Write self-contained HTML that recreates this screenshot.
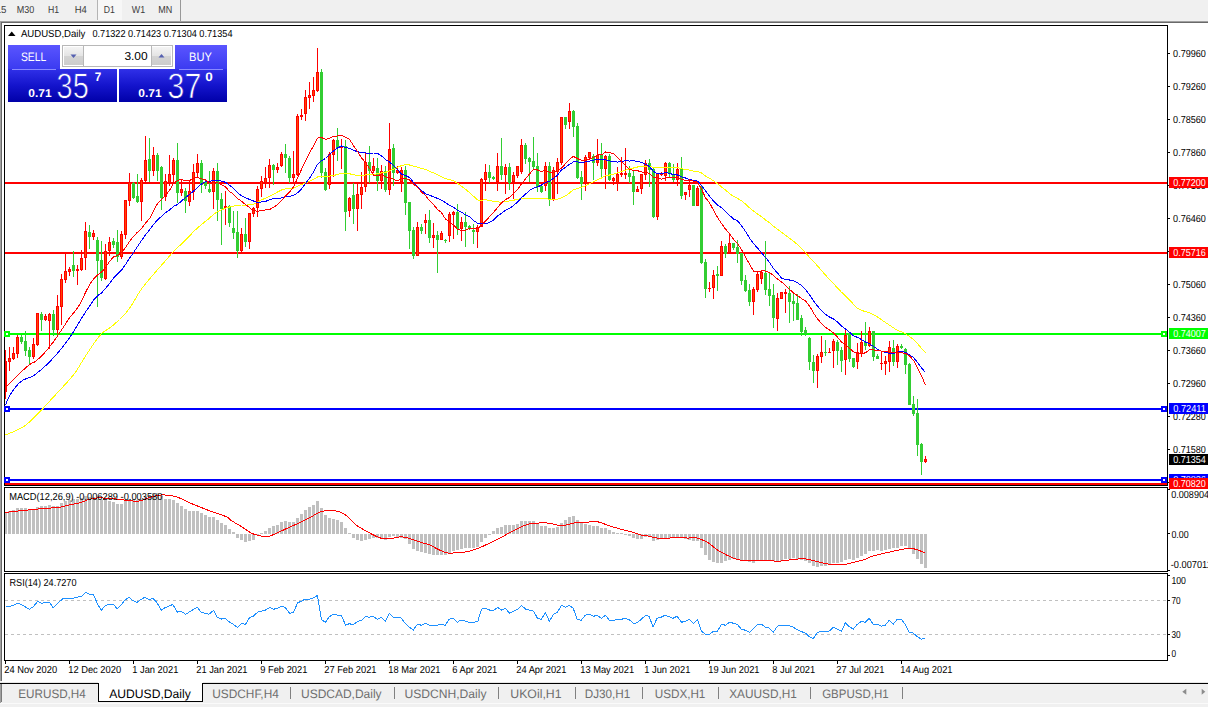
<!DOCTYPE html>
<html><head><meta charset="utf-8"><title>AUDUSD,Daily</title>
<style>html,body{margin:0;padding:0;background:#f0f0f0;}body{width:1208px;height:707px;overflow:hidden;position:relative;font-family:"Liberation Sans",sans-serif;}svg{position:absolute;left:0;top:0;display:block}text{font-family:"Liberation Sans",sans-serif;text-rendering:geometricPrecision;}</style></head><body>
<svg width="1208" height="707" viewBox="0 0 1208 707">
<rect x="0" y="0" width="1208" height="707" fill="#f0f0f0"/>
<rect x="2" y="23" width="1206" height="659" fill="#ffffff"/>
<rect x="0" y="21" width="1208" height="1" fill="#a0a0a0"/>
<rect x="1" y="22" width="1207" height="1" fill="#696969"/>
<rect x="0" y="21" width="1" height="660" fill="#a0a0a0"/>
<rect x="1" y="22" width="1" height="659" fill="#696969"/>
<rect x="0" y="684" width="1" height="19" fill="#a0a0a0"/>
<rect x="1" y="684" width="1" height="18" fill="#7a7a7a"/>
<rect x="98" y="0" width="24" height="20" fill="#f7f7f7"/>
<rect x="97" y="0" width="1" height="20" fill="#b4b4b4"/>
<rect x="180" y="0" width="1" height="21" fill="#989898"/>
<text x="-4.3" y="13.0" font-size="10.2" fill="#3c3c3c" textLength="10.8" lengthAdjust="spacingAndGlyphs" text-anchor="start">15</text>
<text x="16.8" y="13.0" font-size="10.2" fill="#3c3c3c" textLength="17.5" lengthAdjust="spacingAndGlyphs" text-anchor="start">M30</text>
<text x="47.9" y="13.0" font-size="10.2" fill="#3c3c3c" textLength="11.1" lengthAdjust="spacingAndGlyphs" text-anchor="start">H1</text>
<text x="74.7" y="13.0" font-size="10.2" fill="#3c3c3c" textLength="12.1" lengthAdjust="spacingAndGlyphs" text-anchor="start">H4</text>
<text x="103.7" y="13.0" font-size="10.2" fill="#3c3c3c" textLength="11.1" lengthAdjust="spacingAndGlyphs" text-anchor="start">D1</text>
<text x="131.8" y="13.0" font-size="10.2" fill="#3c3c3c" textLength="13.3" lengthAdjust="spacingAndGlyphs" text-anchor="start">W1</text>
<text x="158.2" y="13.0" font-size="10.2" fill="#3c3c3c" textLength="14.0" lengthAdjust="spacingAndGlyphs" text-anchor="start">MN</text>
<g shape-rendering="crispEdges">
<rect x="5" y="182" width="1162" height="2" fill="#ff0000"/>
<rect x="5" y="252" width="1162" height="2" fill="#ff0000"/>
<rect x="5" y="333" width="1162" height="2" fill="#00ff00"/>
<rect x="5" y="408" width="1162" height="2" fill="#0000ff"/>
<rect x="5" y="479" width="1162" height="2" fill="#0000ff"/>
<rect x="5" y="483" width="1162" height="2" fill="#ff0000"/>
<rect x="5" y="350" width="1" height="49" fill="#ff0000"/>
<rect x="5" y="361" width="2" height="31" fill="#ff0000"/>
<rect x="9" y="347" width="1" height="24" fill="#ff0000"/>
<rect x="8" y="358" width="3" height="4" fill="#ff0000"/>
<rect x="9" y="359" width="1" height="2" fill="#ff4500"/>
<rect x="13" y="347" width="1" height="13" fill="#ff0000"/>
<rect x="12" y="353" width="3" height="6" fill="#ff0000"/>
<rect x="13" y="354" width="1" height="4" fill="#ff4500"/>
<rect x="17" y="335" width="1" height="23" fill="#ff0000"/>
<rect x="16" y="337" width="3" height="17" fill="#ff0000"/>
<rect x="17" y="338" width="1" height="15" fill="#ff4500"/>
<rect x="21" y="335" width="1" height="9" fill="#32cd32"/>
<rect x="20" y="337" width="3" height="5" fill="#32cd32"/>
<rect x="25" y="331" width="1" height="25" fill="#32cd32"/>
<rect x="24" y="341" width="3" height="10" fill="#32cd32"/>
<rect x="29" y="347" width="1" height="18" fill="#32cd32"/>
<rect x="28" y="350" width="3" height="7" fill="#32cd32"/>
<rect x="33" y="338" width="1" height="21" fill="#ff0000"/>
<rect x="32" y="344" width="3" height="13" fill="#ff0000"/>
<rect x="33" y="345" width="1" height="11" fill="#ff4500"/>
<rect x="37" y="313" width="1" height="33" fill="#ff0000"/>
<rect x="36" y="313" width="3" height="32" fill="#ff0000"/>
<rect x="37" y="314" width="1" height="30" fill="#ff4500"/>
<rect x="41" y="312" width="1" height="19" fill="#32cd32"/>
<rect x="40" y="314" width="3" height="6" fill="#32cd32"/>
<rect x="45" y="314" width="1" height="7" fill="#ff0000"/>
<rect x="44" y="316" width="3" height="4" fill="#ff0000"/>
<rect x="45" y="317" width="1" height="2" fill="#ff4500"/>
<rect x="49" y="313" width="1" height="36" fill="#ff0000"/>
<rect x="48" y="314" width="3" height="7" fill="#ff0000"/>
<rect x="49" y="315" width="1" height="5" fill="#ff4500"/>
<rect x="53" y="310" width="1" height="26" fill="#32cd32"/>
<rect x="52" y="314" width="3" height="16" fill="#32cd32"/>
<rect x="57" y="295" width="1" height="39" fill="#ff0000"/>
<rect x="56" y="306" width="3" height="24" fill="#ff0000"/>
<rect x="57" y="307" width="1" height="22" fill="#ff4500"/>
<rect x="61" y="274" width="1" height="51" fill="#ff0000"/>
<rect x="60" y="279" width="3" height="28" fill="#ff0000"/>
<rect x="61" y="280" width="1" height="26" fill="#ff4500"/>
<rect x="65" y="253" width="1" height="30" fill="#ff0000"/>
<rect x="64" y="271" width="3" height="9" fill="#ff0000"/>
<rect x="65" y="272" width="1" height="7" fill="#ff4500"/>
<rect x="69" y="267" width="1" height="9" fill="#ff0000"/>
<rect x="68" y="269" width="3" height="3" fill="#ff0000"/>
<rect x="69" y="270" width="1" height="1" fill="#ff4500"/>
<rect x="73" y="251" width="1" height="26" fill="#32cd32"/>
<rect x="72" y="265" width="3" height="6" fill="#32cd32"/>
<rect x="77" y="265" width="1" height="20" fill="#ff0000"/>
<rect x="76" y="269" width="3" height="2" fill="#ff0000"/>
<rect x="81" y="250" width="1" height="21" fill="#ff0000"/>
<rect x="80" y="258" width="3" height="12" fill="#ff0000"/>
<rect x="81" y="259" width="1" height="10" fill="#ff4500"/>
<rect x="85" y="222" width="1" height="48" fill="#ff0000"/>
<rect x="84" y="231" width="3" height="27" fill="#ff0000"/>
<rect x="85" y="232" width="1" height="25" fill="#ff4500"/>
<rect x="89" y="225" width="1" height="24" fill="#32cd32"/>
<rect x="88" y="232" width="3" height="5" fill="#32cd32"/>
<rect x="93" y="230" width="1" height="10" fill="#ff0000"/>
<rect x="92" y="233" width="3" height="4" fill="#ff0000"/>
<rect x="93" y="234" width="1" height="2" fill="#ff4500"/>
<rect x="97" y="237" width="1" height="70" fill="#32cd32"/>
<rect x="96" y="240" width="3" height="21" fill="#32cd32"/>
<rect x="101" y="241" width="1" height="40" fill="#32cd32"/>
<rect x="100" y="260" width="3" height="18" fill="#32cd32"/>
<rect x="105" y="244" width="1" height="36" fill="#ff0000"/>
<rect x="104" y="251" width="3" height="28" fill="#ff0000"/>
<rect x="105" y="252" width="1" height="26" fill="#ff4500"/>
<rect x="109" y="237" width="1" height="19" fill="#ff0000"/>
<rect x="108" y="242" width="3" height="9" fill="#ff0000"/>
<rect x="109" y="243" width="1" height="7" fill="#ff4500"/>
<rect x="113" y="238" width="1" height="10" fill="#32cd32"/>
<rect x="112" y="241" width="3" height="4" fill="#32cd32"/>
<rect x="117" y="230" width="1" height="32" fill="#32cd32"/>
<rect x="116" y="242" width="3" height="15" fill="#32cd32"/>
<rect x="121" y="231" width="1" height="28" fill="#ff0000"/>
<rect x="120" y="234" width="3" height="23" fill="#ff0000"/>
<rect x="121" y="235" width="1" height="21" fill="#ff4500"/>
<rect x="125" y="200" width="1" height="39" fill="#ff0000"/>
<rect x="124" y="200" width="3" height="35" fill="#ff0000"/>
<rect x="125" y="201" width="1" height="33" fill="#ff4500"/>
<rect x="129" y="173" width="1" height="33" fill="#ff0000"/>
<rect x="128" y="182" width="3" height="19" fill="#ff0000"/>
<rect x="129" y="183" width="1" height="17" fill="#ff4500"/>
<rect x="133" y="182" width="1" height="17" fill="#32cd32"/>
<rect x="132" y="183" width="3" height="15" fill="#32cd32"/>
<rect x="137" y="174" width="1" height="29" fill="#32cd32"/>
<rect x="136" y="196" width="3" height="6" fill="#32cd32"/>
<rect x="141" y="178" width="1" height="43" fill="#ff0000"/>
<rect x="140" y="180" width="3" height="22" fill="#ff0000"/>
<rect x="141" y="181" width="1" height="20" fill="#ff4500"/>
<rect x="145" y="136" width="1" height="46" fill="#ff0000"/>
<rect x="144" y="160" width="3" height="21" fill="#ff0000"/>
<rect x="145" y="161" width="1" height="19" fill="#ff4500"/>
<rect x="149" y="138" width="1" height="44" fill="#32cd32"/>
<rect x="148" y="159" width="3" height="12" fill="#32cd32"/>
<rect x="153" y="147" width="1" height="29" fill="#ff0000"/>
<rect x="152" y="155" width="3" height="16" fill="#ff0000"/>
<rect x="153" y="156" width="1" height="14" fill="#ff4500"/>
<rect x="157" y="153" width="1" height="28" fill="#32cd32"/>
<rect x="156" y="155" width="3" height="16" fill="#32cd32"/>
<rect x="161" y="166" width="1" height="44" fill="#32cd32"/>
<rect x="160" y="167" width="3" height="31" fill="#32cd32"/>
<rect x="165" y="174" width="1" height="27" fill="#ff0000"/>
<rect x="164" y="181" width="3" height="16" fill="#ff0000"/>
<rect x="165" y="182" width="1" height="14" fill="#ff4500"/>
<rect x="169" y="155" width="1" height="31" fill="#ff0000"/>
<rect x="168" y="174" width="3" height="9" fill="#ff0000"/>
<rect x="169" y="175" width="1" height="7" fill="#ff4500"/>
<rect x="173" y="158" width="1" height="25" fill="#ff0000"/>
<rect x="172" y="160" width="3" height="15" fill="#ff0000"/>
<rect x="173" y="161" width="1" height="13" fill="#ff4500"/>
<rect x="177" y="143" width="1" height="60" fill="#32cd32"/>
<rect x="176" y="160" width="3" height="33" fill="#32cd32"/>
<rect x="181" y="180" width="1" height="16" fill="#ff0000"/>
<rect x="180" y="189" width="3" height="4" fill="#ff0000"/>
<rect x="181" y="190" width="1" height="2" fill="#ff4500"/>
<rect x="185" y="188" width="1" height="25" fill="#32cd32"/>
<rect x="184" y="191" width="3" height="10" fill="#32cd32"/>
<rect x="189" y="180" width="1" height="26" fill="#ff0000"/>
<rect x="188" y="191" width="3" height="11" fill="#ff0000"/>
<rect x="189" y="192" width="1" height="9" fill="#ff4500"/>
<rect x="193" y="164" width="1" height="36" fill="#ff0000"/>
<rect x="192" y="172" width="3" height="20" fill="#ff0000"/>
<rect x="193" y="173" width="1" height="18" fill="#ff4500"/>
<rect x="197" y="154" width="1" height="24" fill="#ff0000"/>
<rect x="196" y="163" width="3" height="10" fill="#ff0000"/>
<rect x="197" y="164" width="1" height="8" fill="#ff4500"/>
<rect x="201" y="160" width="1" height="33" fill="#32cd32"/>
<rect x="200" y="163" width="3" height="22" fill="#32cd32"/>
<rect x="205" y="180" width="1" height="9" fill="#32cd32"/>
<rect x="204" y="182" width="3" height="4" fill="#32cd32"/>
<rect x="209" y="171" width="1" height="22" fill="#32cd32"/>
<rect x="208" y="189" width="3" height="3" fill="#32cd32"/>
<rect x="213" y="168" width="1" height="41" fill="#ff0000"/>
<rect x="212" y="171" width="3" height="21" fill="#ff0000"/>
<rect x="213" y="172" width="1" height="19" fill="#ff4500"/>
<rect x="217" y="163" width="1" height="58" fill="#32cd32"/>
<rect x="216" y="171" width="3" height="29" fill="#32cd32"/>
<rect x="221" y="193" width="1" height="52" fill="#32cd32"/>
<rect x="220" y="199" width="3" height="10" fill="#32cd32"/>
<rect x="225" y="191" width="1" height="34" fill="#ff0000"/>
<rect x="224" y="206" width="3" height="2" fill="#ff0000"/>
<rect x="229" y="205" width="1" height="22" fill="#32cd32"/>
<rect x="228" y="206" width="3" height="17" fill="#32cd32"/>
<rect x="233" y="211" width="1" height="28" fill="#32cd32"/>
<rect x="232" y="228" width="3" height="5" fill="#32cd32"/>
<rect x="237" y="211" width="1" height="47" fill="#32cd32"/>
<rect x="236" y="232" width="3" height="19" fill="#32cd32"/>
<rect x="241" y="228" width="1" height="24" fill="#ff0000"/>
<rect x="240" y="234" width="3" height="17" fill="#ff0000"/>
<rect x="241" y="235" width="1" height="15" fill="#ff4500"/>
<rect x="245" y="218" width="1" height="29" fill="#32cd32"/>
<rect x="244" y="234" width="3" height="8" fill="#32cd32"/>
<rect x="249" y="213" width="1" height="36" fill="#ff0000"/>
<rect x="248" y="213" width="3" height="29" fill="#ff0000"/>
<rect x="249" y="214" width="1" height="27" fill="#ff4500"/>
<rect x="253" y="207" width="1" height="10" fill="#ff0000"/>
<rect x="252" y="208" width="3" height="6" fill="#ff0000"/>
<rect x="253" y="209" width="1" height="4" fill="#ff4500"/>
<rect x="257" y="186" width="1" height="31" fill="#ff0000"/>
<rect x="256" y="189" width="3" height="19" fill="#ff0000"/>
<rect x="257" y="190" width="1" height="17" fill="#ff4500"/>
<rect x="261" y="176" width="1" height="21" fill="#ff0000"/>
<rect x="260" y="181" width="3" height="8" fill="#ff0000"/>
<rect x="261" y="182" width="1" height="6" fill="#ff4500"/>
<rect x="265" y="167" width="1" height="21" fill="#ff0000"/>
<rect x="264" y="178" width="3" height="5" fill="#ff0000"/>
<rect x="265" y="179" width="1" height="3" fill="#ff4500"/>
<rect x="269" y="159" width="1" height="29" fill="#ff0000"/>
<rect x="268" y="165" width="3" height="13" fill="#ff0000"/>
<rect x="269" y="166" width="1" height="11" fill="#ff4500"/>
<rect x="273" y="164" width="1" height="21" fill="#32cd32"/>
<rect x="272" y="165" width="3" height="5" fill="#32cd32"/>
<rect x="277" y="163" width="1" height="10" fill="#ff0000"/>
<rect x="276" y="167" width="3" height="3" fill="#ff0000"/>
<rect x="277" y="168" width="1" height="1" fill="#ff4500"/>
<rect x="281" y="152" width="1" height="15" fill="#ff0000"/>
<rect x="280" y="154" width="3" height="12" fill="#ff0000"/>
<rect x="281" y="155" width="1" height="10" fill="#ff4500"/>
<rect x="285" y="144" width="1" height="29" fill="#32cd32"/>
<rect x="284" y="154" width="3" height="4" fill="#32cd32"/>
<rect x="289" y="156" width="1" height="27" fill="#32cd32"/>
<rect x="288" y="158" width="3" height="20" fill="#32cd32"/>
<rect x="293" y="151" width="1" height="31" fill="#ff0000"/>
<rect x="292" y="174" width="3" height="4" fill="#ff0000"/>
<rect x="293" y="175" width="1" height="2" fill="#ff4500"/>
<rect x="297" y="114" width="1" height="62" fill="#ff0000"/>
<rect x="296" y="116" width="3" height="59" fill="#ff0000"/>
<rect x="297" y="117" width="1" height="57" fill="#ff4500"/>
<rect x="301" y="109" width="1" height="11" fill="#ff0000"/>
<rect x="300" y="115" width="3" height="2" fill="#ff0000"/>
<rect x="305" y="90" width="1" height="31" fill="#ff0000"/>
<rect x="304" y="97" width="3" height="17" fill="#ff0000"/>
<rect x="305" y="98" width="1" height="15" fill="#ff4500"/>
<rect x="309" y="82" width="1" height="27" fill="#ff0000"/>
<rect x="308" y="95" width="3" height="3" fill="#ff0000"/>
<rect x="309" y="96" width="1" height="1" fill="#ff4500"/>
<rect x="313" y="77" width="1" height="25" fill="#ff0000"/>
<rect x="312" y="90" width="3" height="6" fill="#ff0000"/>
<rect x="313" y="91" width="1" height="4" fill="#ff4500"/>
<rect x="317" y="48" width="1" height="44" fill="#ff0000"/>
<rect x="316" y="72" width="3" height="19" fill="#ff0000"/>
<rect x="317" y="73" width="1" height="17" fill="#ff4500"/>
<rect x="321" y="69" width="1" height="109" fill="#32cd32"/>
<rect x="320" y="72" width="3" height="101" fill="#32cd32"/>
<rect x="325" y="168" width="1" height="23" fill="#32cd32"/>
<rect x="324" y="172" width="3" height="18" fill="#32cd32"/>
<rect x="329" y="152" width="1" height="37" fill="#ff0000"/>
<rect x="328" y="154" width="3" height="31" fill="#ff0000"/>
<rect x="329" y="155" width="1" height="29" fill="#ff4500"/>
<rect x="333" y="139" width="1" height="38" fill="#ff0000"/>
<rect x="332" y="140" width="3" height="15" fill="#ff0000"/>
<rect x="333" y="141" width="1" height="13" fill="#ff4500"/>
<rect x="337" y="128" width="1" height="33" fill="#32cd32"/>
<rect x="336" y="140" width="3" height="8" fill="#32cd32"/>
<rect x="341" y="139" width="1" height="30" fill="#ff0000"/>
<rect x="340" y="146" width="3" height="2" fill="#ff0000"/>
<rect x="345" y="140" width="1" height="91" fill="#32cd32"/>
<rect x="344" y="146" width="3" height="66" fill="#32cd32"/>
<rect x="349" y="197" width="1" height="20" fill="#ff0000"/>
<rect x="348" y="198" width="3" height="13" fill="#ff0000"/>
<rect x="349" y="199" width="1" height="11" fill="#ff4500"/>
<rect x="353" y="183" width="1" height="41" fill="#32cd32"/>
<rect x="352" y="195" width="3" height="14" fill="#32cd32"/>
<rect x="357" y="184" width="1" height="47" fill="#ff0000"/>
<rect x="356" y="194" width="3" height="15" fill="#ff0000"/>
<rect x="357" y="195" width="1" height="13" fill="#ff4500"/>
<rect x="361" y="172" width="1" height="37" fill="#ff0000"/>
<rect x="360" y="187" width="3" height="8" fill="#ff0000"/>
<rect x="361" y="188" width="1" height="6" fill="#ff4500"/>
<rect x="365" y="153" width="1" height="39" fill="#ff0000"/>
<rect x="364" y="162" width="3" height="25" fill="#ff0000"/>
<rect x="365" y="163" width="1" height="23" fill="#ff4500"/>
<rect x="369" y="146" width="1" height="37" fill="#32cd32"/>
<rect x="368" y="162" width="3" height="9" fill="#32cd32"/>
<rect x="373" y="158" width="1" height="15" fill="#ff0000"/>
<rect x="372" y="166" width="3" height="5" fill="#ff0000"/>
<rect x="373" y="167" width="1" height="3" fill="#ff4500"/>
<rect x="377" y="158" width="1" height="33" fill="#32cd32"/>
<rect x="376" y="168" width="3" height="13" fill="#32cd32"/>
<rect x="381" y="165" width="1" height="24" fill="#ff0000"/>
<rect x="380" y="171" width="3" height="10" fill="#ff0000"/>
<rect x="381" y="172" width="1" height="8" fill="#ff4500"/>
<rect x="385" y="166" width="1" height="26" fill="#32cd32"/>
<rect x="384" y="171" width="3" height="19" fill="#32cd32"/>
<rect x="389" y="123" width="1" height="72" fill="#ff0000"/>
<rect x="388" y="149" width="3" height="41" fill="#ff0000"/>
<rect x="389" y="150" width="1" height="39" fill="#ff4500"/>
<rect x="393" y="144" width="1" height="42" fill="#32cd32"/>
<rect x="392" y="148" width="3" height="25" fill="#32cd32"/>
<rect x="397" y="166" width="1" height="8" fill="#ff0000"/>
<rect x="396" y="170" width="3" height="3" fill="#ff0000"/>
<rect x="397" y="171" width="1" height="1" fill="#ff4500"/>
<rect x="401" y="167" width="1" height="25" fill="#ff0000"/>
<rect x="400" y="170" width="3" height="12" fill="#ff0000"/>
<rect x="401" y="171" width="1" height="10" fill="#ff4500"/>
<rect x="405" y="166" width="1" height="49" fill="#32cd32"/>
<rect x="404" y="170" width="3" height="33" fill="#32cd32"/>
<rect x="409" y="202" width="1" height="47" fill="#32cd32"/>
<rect x="408" y="202" width="3" height="29" fill="#32cd32"/>
<rect x="413" y="227" width="1" height="32" fill="#32cd32"/>
<rect x="412" y="230" width="3" height="26" fill="#32cd32"/>
<rect x="417" y="222" width="1" height="34" fill="#ff0000"/>
<rect x="416" y="227" width="3" height="29" fill="#ff0000"/>
<rect x="417" y="228" width="1" height="27" fill="#ff4500"/>
<rect x="421" y="224" width="1" height="10" fill="#32cd32"/>
<rect x="420" y="227" width="3" height="4" fill="#32cd32"/>
<rect x="425" y="214" width="1" height="20" fill="#ff0000"/>
<rect x="424" y="220" width="3" height="3" fill="#ff0000"/>
<rect x="425" y="221" width="1" height="1" fill="#ff4500"/>
<rect x="429" y="210" width="1" height="33" fill="#32cd32"/>
<rect x="428" y="220" width="3" height="18" fill="#32cd32"/>
<rect x="433" y="223" width="1" height="25" fill="#ff0000"/>
<rect x="432" y="235" width="3" height="3" fill="#ff0000"/>
<rect x="433" y="236" width="1" height="1" fill="#ff4500"/>
<rect x="437" y="231" width="1" height="42" fill="#32cd32"/>
<rect x="436" y="235" width="3" height="5" fill="#32cd32"/>
<rect x="441" y="231" width="1" height="9" fill="#ff0000"/>
<rect x="440" y="233" width="3" height="7" fill="#ff0000"/>
<rect x="441" y="234" width="1" height="5" fill="#ff4500"/>
<rect x="445" y="239" width="1" height="4" fill="#32cd32"/>
<rect x="444" y="240" width="3" height="1" fill="#32cd32"/>
<rect x="449" y="212" width="1" height="30" fill="#ff0000"/>
<rect x="448" y="214" width="3" height="22" fill="#ff0000"/>
<rect x="449" y="215" width="1" height="20" fill="#ff4500"/>
<rect x="453" y="211" width="1" height="28" fill="#ff0000"/>
<rect x="452" y="212" width="3" height="3" fill="#ff0000"/>
<rect x="453" y="213" width="1" height="1" fill="#ff4500"/>
<rect x="457" y="204" width="1" height="31" fill="#32cd32"/>
<rect x="456" y="212" width="3" height="17" fill="#32cd32"/>
<rect x="461" y="217" width="1" height="24" fill="#ff0000"/>
<rect x="460" y="222" width="3" height="7" fill="#ff0000"/>
<rect x="461" y="223" width="1" height="5" fill="#ff4500"/>
<rect x="465" y="212" width="1" height="35" fill="#32cd32"/>
<rect x="464" y="222" width="3" height="5" fill="#32cd32"/>
<rect x="469" y="225" width="1" height="5" fill="#32cd32"/>
<rect x="468" y="226" width="3" height="3" fill="#32cd32"/>
<rect x="473" y="224" width="1" height="20" fill="#32cd32"/>
<rect x="472" y="230" width="3" height="2" fill="#32cd32"/>
<rect x="477" y="225" width="1" height="23" fill="#ff0000"/>
<rect x="476" y="227" width="3" height="5" fill="#ff0000"/>
<rect x="477" y="228" width="1" height="3" fill="#ff4500"/>
<rect x="481" y="178" width="1" height="49" fill="#ff0000"/>
<rect x="480" y="179" width="3" height="48" fill="#ff0000"/>
<rect x="481" y="180" width="1" height="46" fill="#ff4500"/>
<rect x="485" y="164" width="1" height="27" fill="#ff0000"/>
<rect x="484" y="172" width="3" height="8" fill="#ff0000"/>
<rect x="485" y="173" width="1" height="6" fill="#ff4500"/>
<rect x="489" y="165" width="1" height="18" fill="#32cd32"/>
<rect x="488" y="172" width="3" height="6" fill="#32cd32"/>
<rect x="493" y="176" width="1" height="4" fill="#32cd32"/>
<rect x="492" y="177" width="3" height="2" fill="#32cd32"/>
<rect x="497" y="153" width="1" height="38" fill="#ff0000"/>
<rect x="496" y="166" width="3" height="16" fill="#ff0000"/>
<rect x="497" y="167" width="1" height="14" fill="#ff4500"/>
<rect x="501" y="138" width="1" height="42" fill="#32cd32"/>
<rect x="500" y="166" width="3" height="9" fill="#32cd32"/>
<rect x="505" y="164" width="1" height="30" fill="#ff0000"/>
<rect x="504" y="167" width="3" height="8" fill="#ff0000"/>
<rect x="505" y="168" width="1" height="6" fill="#ff4500"/>
<rect x="509" y="163" width="1" height="27" fill="#32cd32"/>
<rect x="508" y="167" width="3" height="16" fill="#32cd32"/>
<rect x="513" y="172" width="1" height="27" fill="#ff0000"/>
<rect x="512" y="175" width="3" height="7" fill="#ff0000"/>
<rect x="513" y="176" width="1" height="5" fill="#ff4500"/>
<rect x="517" y="166" width="1" height="12" fill="#ff0000"/>
<rect x="516" y="166" width="3" height="10" fill="#ff0000"/>
<rect x="517" y="167" width="1" height="8" fill="#ff4500"/>
<rect x="521" y="139" width="1" height="35" fill="#ff0000"/>
<rect x="520" y="145" width="3" height="27" fill="#ff0000"/>
<rect x="521" y="146" width="1" height="25" fill="#ff4500"/>
<rect x="525" y="143" width="1" height="21" fill="#32cd32"/>
<rect x="524" y="145" width="3" height="14" fill="#32cd32"/>
<rect x="529" y="157" width="1" height="25" fill="#32cd32"/>
<rect x="528" y="158" width="3" height="4" fill="#32cd32"/>
<rect x="533" y="137" width="1" height="33" fill="#32cd32"/>
<rect x="532" y="161" width="3" height="6" fill="#32cd32"/>
<rect x="537" y="153" width="1" height="39" fill="#32cd32"/>
<rect x="536" y="166" width="3" height="21" fill="#32cd32"/>
<rect x="541" y="185" width="1" height="8" fill="#32cd32"/>
<rect x="540" y="186" width="3" height="6" fill="#32cd32"/>
<rect x="545" y="162" width="1" height="29" fill="#ff0000"/>
<rect x="544" y="166" width="3" height="20" fill="#ff0000"/>
<rect x="545" y="167" width="1" height="18" fill="#ff4500"/>
<rect x="549" y="162" width="1" height="44" fill="#32cd32"/>
<rect x="548" y="166" width="3" height="34" fill="#32cd32"/>
<rect x="553" y="167" width="1" height="34" fill="#ff0000"/>
<rect x="552" y="170" width="3" height="30" fill="#ff0000"/>
<rect x="553" y="171" width="1" height="28" fill="#ff4500"/>
<rect x="557" y="158" width="1" height="36" fill="#ff0000"/>
<rect x="556" y="162" width="3" height="10" fill="#ff0000"/>
<rect x="557" y="163" width="1" height="8" fill="#ff4500"/>
<rect x="561" y="117" width="1" height="48" fill="#ff0000"/>
<rect x="560" y="117" width="3" height="46" fill="#ff0000"/>
<rect x="561" y="118" width="1" height="44" fill="#ff4500"/>
<rect x="565" y="117" width="1" height="12" fill="#32cd32"/>
<rect x="564" y="117" width="3" height="8" fill="#32cd32"/>
<rect x="569" y="103" width="1" height="26" fill="#ff0000"/>
<rect x="568" y="111" width="3" height="11" fill="#ff0000"/>
<rect x="569" y="112" width="1" height="9" fill="#ff4500"/>
<rect x="573" y="110" width="1" height="27" fill="#32cd32"/>
<rect x="572" y="111" width="3" height="16" fill="#32cd32"/>
<rect x="577" y="123" width="1" height="56" fill="#32cd32"/>
<rect x="576" y="126" width="3" height="52" fill="#32cd32"/>
<rect x="581" y="171" width="1" height="29" fill="#32cd32"/>
<rect x="580" y="177" width="3" height="7" fill="#32cd32"/>
<rect x="585" y="155" width="1" height="36" fill="#ff0000"/>
<rect x="584" y="157" width="3" height="26" fill="#ff0000"/>
<rect x="585" y="158" width="1" height="24" fill="#ff4500"/>
<rect x="589" y="152" width="1" height="7" fill="#ff0000"/>
<rect x="588" y="152" width="3" height="6" fill="#ff0000"/>
<rect x="589" y="153" width="1" height="4" fill="#ff4500"/>
<rect x="593" y="154" width="1" height="26" fill="#32cd32"/>
<rect x="592" y="156" width="3" height="7" fill="#32cd32"/>
<rect x="597" y="139" width="1" height="27" fill="#ff0000"/>
<rect x="596" y="155" width="3" height="8" fill="#ff0000"/>
<rect x="597" y="156" width="1" height="6" fill="#ff4500"/>
<rect x="601" y="143" width="1" height="36" fill="#32cd32"/>
<rect x="600" y="155" width="3" height="14" fill="#32cd32"/>
<rect x="605" y="155" width="1" height="34" fill="#ff0000"/>
<rect x="604" y="156" width="3" height="13" fill="#ff0000"/>
<rect x="605" y="157" width="1" height="11" fill="#ff4500"/>
<rect x="609" y="154" width="1" height="27" fill="#32cd32"/>
<rect x="608" y="156" width="3" height="24" fill="#32cd32"/>
<rect x="613" y="177" width="1" height="8" fill="#ff0000"/>
<rect x="612" y="178" width="3" height="3" fill="#ff0000"/>
<rect x="613" y="179" width="1" height="1" fill="#ff4500"/>
<rect x="617" y="167" width="1" height="24" fill="#ff0000"/>
<rect x="616" y="174" width="3" height="9" fill="#ff0000"/>
<rect x="617" y="175" width="1" height="7" fill="#ff4500"/>
<rect x="621" y="157" width="1" height="20" fill="#ff0000"/>
<rect x="620" y="173" width="3" height="2" fill="#ff0000"/>
<rect x="625" y="148" width="1" height="31" fill="#ff0000"/>
<rect x="624" y="173" width="3" height="2" fill="#ff0000"/>
<rect x="629" y="166" width="1" height="17" fill="#32cd32"/>
<rect x="628" y="173" width="3" height="4" fill="#32cd32"/>
<rect x="633" y="171" width="1" height="34" fill="#32cd32"/>
<rect x="632" y="176" width="3" height="16" fill="#32cd32"/>
<rect x="637" y="186" width="1" height="6" fill="#ff0000"/>
<rect x="636" y="189" width="3" height="3" fill="#ff0000"/>
<rect x="637" y="190" width="1" height="1" fill="#ff4500"/>
<rect x="641" y="174" width="1" height="20" fill="#ff0000"/>
<rect x="640" y="174" width="3" height="15" fill="#ff0000"/>
<rect x="641" y="175" width="1" height="13" fill="#ff4500"/>
<rect x="645" y="160" width="1" height="20" fill="#ff0000"/>
<rect x="644" y="163" width="3" height="12" fill="#ff0000"/>
<rect x="645" y="164" width="1" height="10" fill="#ff4500"/>
<rect x="649" y="159" width="1" height="28" fill="#32cd32"/>
<rect x="648" y="163" width="3" height="7" fill="#32cd32"/>
<rect x="653" y="167" width="1" height="51" fill="#32cd32"/>
<rect x="652" y="169" width="3" height="48" fill="#32cd32"/>
<rect x="657" y="173" width="1" height="47" fill="#ff0000"/>
<rect x="656" y="173" width="3" height="44" fill="#ff0000"/>
<rect x="657" y="174" width="1" height="42" fill="#ff4500"/>
<rect x="661" y="172" width="1" height="4" fill="#ff0000"/>
<rect x="660" y="173" width="3" height="2" fill="#ff0000"/>
<rect x="665" y="162" width="1" height="19" fill="#ff0000"/>
<rect x="664" y="163" width="3" height="13" fill="#ff0000"/>
<rect x="665" y="164" width="1" height="11" fill="#ff4500"/>
<rect x="669" y="162" width="1" height="16" fill="#32cd32"/>
<rect x="668" y="163" width="3" height="11" fill="#32cd32"/>
<rect x="673" y="164" width="1" height="18" fill="#32cd32"/>
<rect x="672" y="174" width="3" height="6" fill="#32cd32"/>
<rect x="677" y="163" width="1" height="23" fill="#ff0000"/>
<rect x="676" y="169" width="3" height="11" fill="#ff0000"/>
<rect x="677" y="170" width="1" height="9" fill="#ff4500"/>
<rect x="681" y="157" width="1" height="42" fill="#32cd32"/>
<rect x="680" y="169" width="3" height="27" fill="#32cd32"/>
<rect x="685" y="192" width="1" height="8" fill="#ff0000"/>
<rect x="684" y="192" width="3" height="3" fill="#ff0000"/>
<rect x="685" y="193" width="1" height="1" fill="#ff4500"/>
<rect x="689" y="181" width="1" height="16" fill="#ff0000"/>
<rect x="688" y="185" width="3" height="5" fill="#ff0000"/>
<rect x="689" y="186" width="1" height="3" fill="#ff4500"/>
<rect x="693" y="185" width="1" height="21" fill="#32cd32"/>
<rect x="692" y="185" width="3" height="21" fill="#32cd32"/>
<rect x="697" y="186" width="1" height="20" fill="#ff0000"/>
<rect x="696" y="188" width="3" height="18" fill="#ff0000"/>
<rect x="697" y="189" width="1" height="16" fill="#ff4500"/>
<rect x="701" y="185" width="1" height="79" fill="#32cd32"/>
<rect x="700" y="188" width="3" height="75" fill="#32cd32"/>
<rect x="705" y="259" width="1" height="39" fill="#32cd32"/>
<rect x="704" y="262" width="3" height="27" fill="#32cd32"/>
<rect x="709" y="282" width="1" height="10" fill="#ff0000"/>
<rect x="708" y="288" width="3" height="1" fill="#ff0000"/>
<rect x="713" y="270" width="1" height="29" fill="#ff0000"/>
<rect x="712" y="275" width="3" height="13" fill="#ff0000"/>
<rect x="713" y="276" width="1" height="11" fill="#ff4500"/>
<rect x="717" y="266" width="1" height="25" fill="#32cd32"/>
<rect x="716" y="274" width="3" height="2" fill="#32cd32"/>
<rect x="721" y="241" width="1" height="35" fill="#ff0000"/>
<rect x="720" y="246" width="3" height="30" fill="#ff0000"/>
<rect x="721" y="247" width="1" height="28" fill="#ff4500"/>
<rect x="725" y="244" width="1" height="14" fill="#32cd32"/>
<rect x="724" y="246" width="3" height="8" fill="#32cd32"/>
<rect x="729" y="233" width="1" height="20" fill="#ff0000"/>
<rect x="728" y="243" width="3" height="10" fill="#ff0000"/>
<rect x="729" y="244" width="1" height="8" fill="#ff4500"/>
<rect x="733" y="243" width="1" height="7" fill="#32cd32"/>
<rect x="732" y="243" width="3" height="5" fill="#32cd32"/>
<rect x="737" y="240" width="1" height="23" fill="#32cd32"/>
<rect x="736" y="247" width="3" height="7" fill="#32cd32"/>
<rect x="741" y="253" width="1" height="32" fill="#32cd32"/>
<rect x="740" y="253" width="3" height="28" fill="#32cd32"/>
<rect x="745" y="275" width="1" height="17" fill="#32cd32"/>
<rect x="744" y="280" width="3" height="11" fill="#32cd32"/>
<rect x="749" y="284" width="1" height="22" fill="#32cd32"/>
<rect x="748" y="290" width="3" height="12" fill="#32cd32"/>
<rect x="753" y="287" width="1" height="28" fill="#ff0000"/>
<rect x="752" y="289" width="3" height="13" fill="#ff0000"/>
<rect x="753" y="290" width="1" height="11" fill="#ff4500"/>
<rect x="757" y="271" width="1" height="21" fill="#ff0000"/>
<rect x="756" y="274" width="3" height="16" fill="#ff0000"/>
<rect x="757" y="275" width="1" height="14" fill="#ff4500"/>
<rect x="761" y="271" width="1" height="13" fill="#ff0000"/>
<rect x="760" y="272" width="3" height="7" fill="#ff0000"/>
<rect x="761" y="273" width="1" height="5" fill="#ff4500"/>
<rect x="765" y="241" width="1" height="54" fill="#32cd32"/>
<rect x="764" y="273" width="3" height="17" fill="#32cd32"/>
<rect x="769" y="272" width="1" height="34" fill="#32cd32"/>
<rect x="768" y="289" width="3" height="7" fill="#32cd32"/>
<rect x="773" y="284" width="1" height="44" fill="#32cd32"/>
<rect x="772" y="295" width="3" height="23" fill="#32cd32"/>
<rect x="777" y="293" width="1" height="38" fill="#ff0000"/>
<rect x="776" y="298" width="3" height="21" fill="#ff0000"/>
<rect x="777" y="299" width="1" height="19" fill="#ff4500"/>
<rect x="781" y="292" width="1" height="7" fill="#ff0000"/>
<rect x="780" y="292" width="3" height="7" fill="#ff0000"/>
<rect x="781" y="293" width="1" height="5" fill="#ff4500"/>
<rect x="785" y="289" width="1" height="24" fill="#ff0000"/>
<rect x="784" y="292" width="3" height="2" fill="#ff0000"/>
<rect x="789" y="286" width="1" height="37" fill="#32cd32"/>
<rect x="788" y="293" width="3" height="9" fill="#32cd32"/>
<rect x="793" y="294" width="1" height="27" fill="#32cd32"/>
<rect x="792" y="301" width="3" height="3" fill="#32cd32"/>
<rect x="797" y="294" width="1" height="26" fill="#32cd32"/>
<rect x="796" y="303" width="3" height="17" fill="#32cd32"/>
<rect x="801" y="315" width="1" height="21" fill="#32cd32"/>
<rect x="800" y="318" width="3" height="14" fill="#32cd32"/>
<rect x="805" y="327" width="1" height="9" fill="#32cd32"/>
<rect x="804" y="330" width="3" height="4" fill="#32cd32"/>
<rect x="809" y="337" width="1" height="33" fill="#32cd32"/>
<rect x="808" y="338" width="3" height="24" fill="#32cd32"/>
<rect x="813" y="355" width="1" height="28" fill="#32cd32"/>
<rect x="812" y="362" width="3" height="9" fill="#32cd32"/>
<rect x="817" y="354" width="1" height="34" fill="#ff0000"/>
<rect x="816" y="356" width="3" height="15" fill="#ff0000"/>
<rect x="817" y="357" width="1" height="13" fill="#ff4500"/>
<rect x="821" y="336" width="1" height="27" fill="#ff0000"/>
<rect x="820" y="352" width="3" height="5" fill="#ff0000"/>
<rect x="821" y="353" width="1" height="3" fill="#ff4500"/>
<rect x="825" y="340" width="1" height="16" fill="#32cd32"/>
<rect x="824" y="352" width="3" height="1" fill="#32cd32"/>
<rect x="829" y="348" width="1" height="5" fill="#ff0000"/>
<rect x="828" y="352" width="3" height="1" fill="#ff0000"/>
<rect x="833" y="339" width="1" height="29" fill="#ff0000"/>
<rect x="832" y="341" width="3" height="10" fill="#ff0000"/>
<rect x="833" y="342" width="1" height="8" fill="#ff4500"/>
<rect x="837" y="340" width="1" height="25" fill="#32cd32"/>
<rect x="836" y="342" width="3" height="9" fill="#32cd32"/>
<rect x="841" y="347" width="1" height="25" fill="#32cd32"/>
<rect x="840" y="350" width="3" height="11" fill="#32cd32"/>
<rect x="845" y="328" width="1" height="47" fill="#ff0000"/>
<rect x="844" y="335" width="3" height="25" fill="#ff0000"/>
<rect x="845" y="336" width="1" height="23" fill="#ff4500"/>
<rect x="849" y="332" width="1" height="30" fill="#32cd32"/>
<rect x="848" y="333" width="3" height="26" fill="#32cd32"/>
<rect x="853" y="358" width="1" height="10" fill="#32cd32"/>
<rect x="852" y="358" width="3" height="9" fill="#32cd32"/>
<rect x="857" y="343" width="1" height="26" fill="#ff0000"/>
<rect x="856" y="352" width="3" height="10" fill="#ff0000"/>
<rect x="857" y="353" width="1" height="8" fill="#ff4500"/>
<rect x="861" y="331" width="1" height="26" fill="#ff0000"/>
<rect x="860" y="342" width="3" height="12" fill="#ff0000"/>
<rect x="861" y="343" width="1" height="10" fill="#ff4500"/>
<rect x="865" y="322" width="1" height="28" fill="#32cd32"/>
<rect x="864" y="342" width="3" height="4" fill="#32cd32"/>
<rect x="869" y="327" width="1" height="20" fill="#ff0000"/>
<rect x="868" y="331" width="3" height="15" fill="#ff0000"/>
<rect x="869" y="332" width="1" height="13" fill="#ff4500"/>
<rect x="873" y="331" width="1" height="30" fill="#32cd32"/>
<rect x="872" y="331" width="3" height="26" fill="#32cd32"/>
<rect x="877" y="354" width="1" height="5" fill="#32cd32"/>
<rect x="876" y="356" width="3" height="3" fill="#32cd32"/>
<rect x="881" y="352" width="1" height="18" fill="#ff0000"/>
<rect x="880" y="363" width="3" height="1" fill="#ff0000"/>
<rect x="885" y="356" width="1" height="19" fill="#ff0000"/>
<rect x="884" y="361" width="3" height="3" fill="#ff0000"/>
<rect x="885" y="362" width="1" height="1" fill="#ff4500"/>
<rect x="889" y="341" width="1" height="31" fill="#ff0000"/>
<rect x="888" y="347" width="3" height="15" fill="#ff0000"/>
<rect x="889" y="348" width="1" height="13" fill="#ff4500"/>
<rect x="893" y="340" width="1" height="26" fill="#32cd32"/>
<rect x="892" y="348" width="3" height="14" fill="#32cd32"/>
<rect x="897" y="344" width="1" height="24" fill="#ff0000"/>
<rect x="896" y="346" width="3" height="16" fill="#ff0000"/>
<rect x="897" y="347" width="1" height="14" fill="#ff4500"/>
<rect x="901" y="344" width="1" height="5" fill="#32cd32"/>
<rect x="900" y="346" width="3" height="2" fill="#32cd32"/>
<rect x="905" y="348" width="1" height="26" fill="#32cd32"/>
<rect x="904" y="349" width="3" height="16" fill="#32cd32"/>
<rect x="909" y="363" width="1" height="42" fill="#32cd32"/>
<rect x="908" y="364" width="3" height="41" fill="#32cd32"/>
<rect x="913" y="396" width="1" height="20" fill="#32cd32"/>
<rect x="912" y="404" width="3" height="10" fill="#32cd32"/>
<rect x="917" y="399" width="1" height="57" fill="#32cd32"/>
<rect x="916" y="413" width="3" height="32" fill="#32cd32"/>
<rect x="921" y="443" width="1" height="32" fill="#32cd32"/>
<rect x="920" y="444" width="3" height="18" fill="#32cd32"/>
<rect x="925" y="456" width="1" height="7" fill="#ff0000"/>
<rect x="924" y="459" width="3" height="3" fill="#ff0000"/>
<rect x="925" y="460" width="1" height="1" fill="#ff4500"/>
<rect x="5" y="512" width="2" height="22" fill="#c0c0c0"/>
<rect x="8" y="511" width="3" height="23" fill="#c0c0c0"/>
<rect x="12" y="510" width="3" height="24" fill="#c0c0c0"/>
<rect x="16" y="508" width="3" height="26" fill="#c0c0c0"/>
<rect x="20" y="508" width="3" height="26" fill="#c0c0c0"/>
<rect x="24" y="508" width="3" height="26" fill="#c0c0c0"/>
<rect x="28" y="509" width="3" height="25" fill="#c0c0c0"/>
<rect x="32" y="509" width="3" height="25" fill="#c0c0c0"/>
<rect x="36" y="507" width="3" height="27" fill="#c0c0c0"/>
<rect x="40" y="506" width="3" height="28" fill="#c0c0c0"/>
<rect x="44" y="506" width="3" height="28" fill="#c0c0c0"/>
<rect x="48" y="505" width="3" height="29" fill="#c0c0c0"/>
<rect x="52" y="506" width="3" height="28" fill="#c0c0c0"/>
<rect x="56" y="506" width="3" height="28" fill="#c0c0c0"/>
<rect x="60" y="503" width="3" height="31" fill="#c0c0c0"/>
<rect x="64" y="501" width="3" height="33" fill="#c0c0c0"/>
<rect x="68" y="500" width="3" height="34" fill="#c0c0c0"/>
<rect x="72" y="499" width="3" height="35" fill="#c0c0c0"/>
<rect x="76" y="499" width="3" height="35" fill="#c0c0c0"/>
<rect x="80" y="498" width="3" height="36" fill="#c0c0c0"/>
<rect x="84" y="496" width="3" height="38" fill="#c0c0c0"/>
<rect x="88" y="497" width="3" height="37" fill="#c0c0c0"/>
<rect x="92" y="497" width="3" height="37" fill="#c0c0c0"/>
<rect x="96" y="499" width="3" height="35" fill="#c0c0c0"/>
<rect x="100" y="500" width="3" height="34" fill="#c0c0c0"/>
<rect x="104" y="500" width="3" height="34" fill="#c0c0c0"/>
<rect x="108" y="501" width="3" height="33" fill="#c0c0c0"/>
<rect x="112" y="502" width="3" height="32" fill="#c0c0c0"/>
<rect x="116" y="504" width="3" height="30" fill="#c0c0c0"/>
<rect x="120" y="504" width="3" height="30" fill="#c0c0c0"/>
<rect x="124" y="500" width="3" height="34" fill="#c0c0c0"/>
<rect x="128" y="499" width="3" height="35" fill="#c0c0c0"/>
<rect x="132" y="499" width="3" height="35" fill="#c0c0c0"/>
<rect x="136" y="500" width="3" height="34" fill="#c0c0c0"/>
<rect x="140" y="499" width="3" height="35" fill="#c0c0c0"/>
<rect x="144" y="496" width="3" height="38" fill="#c0c0c0"/>
<rect x="148" y="495" width="3" height="39" fill="#c0c0c0"/>
<rect x="152" y="493" width="3" height="41" fill="#c0c0c0"/>
<rect x="156" y="493" width="3" height="41" fill="#c0c0c0"/>
<rect x="160" y="496" width="3" height="38" fill="#c0c0c0"/>
<rect x="164" y="499" width="3" height="35" fill="#c0c0c0"/>
<rect x="168" y="499" width="3" height="35" fill="#c0c0c0"/>
<rect x="172" y="500" width="3" height="34" fill="#c0c0c0"/>
<rect x="176" y="503" width="3" height="31" fill="#c0c0c0"/>
<rect x="180" y="506" width="3" height="28" fill="#c0c0c0"/>
<rect x="184" y="509" width="3" height="25" fill="#c0c0c0"/>
<rect x="188" y="511" width="3" height="23" fill="#c0c0c0"/>
<rect x="192" y="511" width="3" height="23" fill="#c0c0c0"/>
<rect x="196" y="511" width="3" height="23" fill="#c0c0c0"/>
<rect x="200" y="513" width="3" height="21" fill="#c0c0c0"/>
<rect x="204" y="515" width="3" height="19" fill="#c0c0c0"/>
<rect x="208" y="517" width="3" height="17" fill="#c0c0c0"/>
<rect x="212" y="517" width="3" height="17" fill="#c0c0c0"/>
<rect x="216" y="520" width="3" height="14" fill="#c0c0c0"/>
<rect x="220" y="523" width="3" height="11" fill="#c0c0c0"/>
<rect x="224" y="525" width="3" height="9" fill="#c0c0c0"/>
<rect x="228" y="529" width="3" height="5" fill="#c0c0c0"/>
<rect x="232" y="532" width="3" height="2" fill="#c0c0c0"/>
<rect x="236" y="534" width="3" height="4" fill="#c0c0c0"/>
<rect x="240" y="534" width="3" height="6" fill="#c0c0c0"/>
<rect x="244" y="534" width="3" height="8" fill="#c0c0c0"/>
<rect x="248" y="534" width="3" height="7" fill="#c0c0c0"/>
<rect x="252" y="534" width="3" height="6" fill="#c0c0c0"/>
<rect x="256" y="534" width="3" height="1" fill="#c0c0c0"/>
<rect x="260" y="533" width="3" height="1" fill="#c0c0c0"/>
<rect x="264" y="531" width="3" height="3" fill="#c0c0c0"/>
<rect x="268" y="528" width="3" height="6" fill="#c0c0c0"/>
<rect x="272" y="526" width="3" height="8" fill="#c0c0c0"/>
<rect x="276" y="525" width="3" height="9" fill="#c0c0c0"/>
<rect x="280" y="522" width="3" height="12" fill="#c0c0c0"/>
<rect x="284" y="521" width="3" height="13" fill="#c0c0c0"/>
<rect x="288" y="522" width="3" height="12" fill="#c0c0c0"/>
<rect x="292" y="522" width="3" height="12" fill="#c0c0c0"/>
<rect x="296" y="518" width="3" height="16" fill="#c0c0c0"/>
<rect x="300" y="514" width="3" height="20" fill="#c0c0c0"/>
<rect x="304" y="510" width="3" height="24" fill="#c0c0c0"/>
<rect x="308" y="507" width="3" height="27" fill="#c0c0c0"/>
<rect x="312" y="505" width="3" height="29" fill="#c0c0c0"/>
<rect x="316" y="501" width="3" height="33" fill="#c0c0c0"/>
<rect x="320" y="508" width="3" height="26" fill="#c0c0c0"/>
<rect x="324" y="515" width="3" height="19" fill="#c0c0c0"/>
<rect x="328" y="518" width="3" height="16" fill="#c0c0c0"/>
<rect x="332" y="519" width="3" height="15" fill="#c0c0c0"/>
<rect x="336" y="520" width="3" height="14" fill="#c0c0c0"/>
<rect x="340" y="522" width="3" height="12" fill="#c0c0c0"/>
<rect x="344" y="528" width="3" height="6" fill="#c0c0c0"/>
<rect x="348" y="533" width="3" height="1" fill="#c0c0c0"/>
<rect x="352" y="534" width="3" height="4" fill="#c0c0c0"/>
<rect x="356" y="534" width="3" height="6" fill="#c0c0c0"/>
<rect x="360" y="534" width="3" height="7" fill="#c0c0c0"/>
<rect x="364" y="534" width="3" height="6" fill="#c0c0c0"/>
<rect x="368" y="534" width="3" height="5" fill="#c0c0c0"/>
<rect x="372" y="534" width="3" height="4" fill="#c0c0c0"/>
<rect x="376" y="534" width="3" height="4" fill="#c0c0c0"/>
<rect x="380" y="534" width="3" height="5" fill="#c0c0c0"/>
<rect x="384" y="534" width="3" height="6" fill="#c0c0c0"/>
<rect x="388" y="534" width="3" height="3" fill="#c0c0c0"/>
<rect x="392" y="534" width="3" height="2" fill="#c0c0c0"/>
<rect x="396" y="534" width="3" height="3" fill="#c0c0c0"/>
<rect x="400" y="534" width="3" height="4" fill="#c0c0c0"/>
<rect x="404" y="534" width="3" height="5" fill="#c0c0c0"/>
<rect x="408" y="534" width="3" height="10" fill="#c0c0c0"/>
<rect x="412" y="534" width="3" height="15" fill="#c0c0c0"/>
<rect x="416" y="534" width="3" height="17" fill="#c0c0c0"/>
<rect x="420" y="534" width="3" height="18" fill="#c0c0c0"/>
<rect x="424" y="534" width="3" height="19" fill="#c0c0c0"/>
<rect x="428" y="534" width="3" height="20" fill="#c0c0c0"/>
<rect x="432" y="534" width="3" height="21" fill="#c0c0c0"/>
<rect x="436" y="534" width="3" height="21" fill="#c0c0c0"/>
<rect x="440" y="534" width="3" height="21" fill="#c0c0c0"/>
<rect x="444" y="534" width="3" height="21" fill="#c0c0c0"/>
<rect x="448" y="534" width="3" height="19" fill="#c0c0c0"/>
<rect x="452" y="534" width="3" height="17" fill="#c0c0c0"/>
<rect x="456" y="534" width="3" height="16" fill="#c0c0c0"/>
<rect x="460" y="534" width="3" height="15" fill="#c0c0c0"/>
<rect x="464" y="534" width="3" height="14" fill="#c0c0c0"/>
<rect x="468" y="534" width="3" height="14" fill="#c0c0c0"/>
<rect x="472" y="534" width="3" height="14" fill="#c0c0c0"/>
<rect x="476" y="534" width="3" height="13" fill="#c0c0c0"/>
<rect x="480" y="534" width="3" height="8" fill="#c0c0c0"/>
<rect x="484" y="534" width="3" height="4" fill="#c0c0c0"/>
<rect x="488" y="534" width="3" height="1" fill="#c0c0c0"/>
<rect x="492" y="531" width="3" height="3" fill="#c0c0c0"/>
<rect x="496" y="528" width="3" height="6" fill="#c0c0c0"/>
<rect x="500" y="527" width="3" height="7" fill="#c0c0c0"/>
<rect x="504" y="525" width="3" height="9" fill="#c0c0c0"/>
<rect x="508" y="525" width="3" height="9" fill="#c0c0c0"/>
<rect x="512" y="525" width="3" height="9" fill="#c0c0c0"/>
<rect x="516" y="524" width="3" height="10" fill="#c0c0c0"/>
<rect x="520" y="521" width="3" height="13" fill="#c0c0c0"/>
<rect x="524" y="521" width="3" height="13" fill="#c0c0c0"/>
<rect x="528" y="521" width="3" height="13" fill="#c0c0c0"/>
<rect x="532" y="521" width="3" height="13" fill="#c0c0c0"/>
<rect x="536" y="524" width="3" height="10" fill="#c0c0c0"/>
<rect x="540" y="526" width="3" height="8" fill="#c0c0c0"/>
<rect x="544" y="526" width="3" height="8" fill="#c0c0c0"/>
<rect x="548" y="528" width="3" height="6" fill="#c0c0c0"/>
<rect x="552" y="528" width="3" height="6" fill="#c0c0c0"/>
<rect x="556" y="527" width="3" height="7" fill="#c0c0c0"/>
<rect x="560" y="523" width="3" height="11" fill="#c0c0c0"/>
<rect x="564" y="520" width="3" height="14" fill="#c0c0c0"/>
<rect x="568" y="517" width="3" height="17" fill="#c0c0c0"/>
<rect x="572" y="516" width="3" height="18" fill="#c0c0c0"/>
<rect x="576" y="520" width="3" height="14" fill="#c0c0c0"/>
<rect x="580" y="523" width="3" height="11" fill="#c0c0c0"/>
<rect x="584" y="524" width="3" height="10" fill="#c0c0c0"/>
<rect x="588" y="525" width="3" height="9" fill="#c0c0c0"/>
<rect x="592" y="526" width="3" height="8" fill="#c0c0c0"/>
<rect x="596" y="526" width="3" height="8" fill="#c0c0c0"/>
<rect x="600" y="528" width="3" height="6" fill="#c0c0c0"/>
<rect x="604" y="528" width="3" height="6" fill="#c0c0c0"/>
<rect x="608" y="530" width="3" height="4" fill="#c0c0c0"/>
<rect x="612" y="532" width="3" height="2" fill="#c0c0c0"/>
<rect x="616" y="533" width="3" height="1" fill="#c0c0c0"/>
<rect x="620" y="533" width="3" height="1" fill="#c0c0c0"/>
<rect x="624" y="534" width="3" height="1" fill="#c0c0c0"/>
<rect x="628" y="534" width="3" height="2" fill="#c0c0c0"/>
<rect x="632" y="534" width="3" height="4" fill="#c0c0c0"/>
<rect x="636" y="534" width="3" height="5" fill="#c0c0c0"/>
<rect x="640" y="534" width="3" height="5" fill="#c0c0c0"/>
<rect x="644" y="534" width="3" height="3" fill="#c0c0c0"/>
<rect x="648" y="534" width="3" height="2" fill="#c0c0c0"/>
<rect x="652" y="534" width="3" height="7" fill="#c0c0c0"/>
<rect x="656" y="534" width="3" height="6" fill="#c0c0c0"/>
<rect x="660" y="534" width="3" height="5" fill="#c0c0c0"/>
<rect x="664" y="534" width="3" height="4" fill="#c0c0c0"/>
<rect x="668" y="534" width="3" height="4" fill="#c0c0c0"/>
<rect x="672" y="534" width="3" height="3" fill="#c0c0c0"/>
<rect x="676" y="534" width="3" height="3" fill="#c0c0c0"/>
<rect x="680" y="534" width="3" height="4" fill="#c0c0c0"/>
<rect x="684" y="534" width="3" height="5" fill="#c0c0c0"/>
<rect x="688" y="534" width="3" height="6" fill="#c0c0c0"/>
<rect x="692" y="534" width="3" height="7" fill="#c0c0c0"/>
<rect x="696" y="534" width="3" height="7" fill="#c0c0c0"/>
<rect x="700" y="534" width="3" height="14" fill="#c0c0c0"/>
<rect x="704" y="534" width="3" height="21" fill="#c0c0c0"/>
<rect x="708" y="534" width="3" height="26" fill="#c0c0c0"/>
<rect x="712" y="534" width="3" height="28" fill="#c0c0c0"/>
<rect x="716" y="534" width="3" height="29" fill="#c0c0c0"/>
<rect x="720" y="534" width="3" height="29" fill="#c0c0c0"/>
<rect x="724" y="534" width="3" height="27" fill="#c0c0c0"/>
<rect x="728" y="534" width="3" height="26" fill="#c0c0c0"/>
<rect x="732" y="534" width="3" height="25" fill="#c0c0c0"/>
<rect x="736" y="534" width="3" height="26" fill="#c0c0c0"/>
<rect x="740" y="534" width="3" height="26" fill="#c0c0c0"/>
<rect x="744" y="534" width="3" height="27" fill="#c0c0c0"/>
<rect x="748" y="534" width="3" height="28" fill="#c0c0c0"/>
<rect x="752" y="534" width="3" height="29" fill="#c0c0c0"/>
<rect x="756" y="534" width="3" height="27" fill="#c0c0c0"/>
<rect x="760" y="534" width="3" height="26" fill="#c0c0c0"/>
<rect x="764" y="534" width="3" height="26" fill="#c0c0c0"/>
<rect x="768" y="534" width="3" height="26" fill="#c0c0c0"/>
<rect x="772" y="534" width="3" height="27" fill="#c0c0c0"/>
<rect x="776" y="534" width="3" height="27" fill="#c0c0c0"/>
<rect x="780" y="534" width="3" height="27" fill="#c0c0c0"/>
<rect x="784" y="534" width="3" height="25" fill="#c0c0c0"/>
<rect x="788" y="534" width="3" height="25" fill="#c0c0c0"/>
<rect x="792" y="534" width="3" height="24" fill="#c0c0c0"/>
<rect x="796" y="534" width="3" height="25" fill="#c0c0c0"/>
<rect x="800" y="534" width="3" height="26" fill="#c0c0c0"/>
<rect x="804" y="534" width="3" height="27" fill="#c0c0c0"/>
<rect x="808" y="534" width="3" height="29" fill="#c0c0c0"/>
<rect x="812" y="534" width="3" height="32" fill="#c0c0c0"/>
<rect x="816" y="534" width="3" height="33" fill="#c0c0c0"/>
<rect x="820" y="534" width="3" height="32" fill="#c0c0c0"/>
<rect x="824" y="534" width="3" height="32" fill="#c0c0c0"/>
<rect x="828" y="534" width="3" height="31" fill="#c0c0c0"/>
<rect x="832" y="534" width="3" height="29" fill="#c0c0c0"/>
<rect x="836" y="534" width="3" height="29" fill="#c0c0c0"/>
<rect x="840" y="534" width="3" height="28" fill="#c0c0c0"/>
<rect x="844" y="534" width="3" height="26" fill="#c0c0c0"/>
<rect x="848" y="534" width="3" height="25" fill="#c0c0c0"/>
<rect x="852" y="534" width="3" height="26" fill="#c0c0c0"/>
<rect x="856" y="534" width="3" height="24" fill="#c0c0c0"/>
<rect x="860" y="534" width="3" height="22" fill="#c0c0c0"/>
<rect x="864" y="534" width="3" height="20" fill="#c0c0c0"/>
<rect x="868" y="534" width="3" height="17" fill="#c0c0c0"/>
<rect x="872" y="534" width="3" height="17" fill="#c0c0c0"/>
<rect x="876" y="534" width="3" height="16" fill="#c0c0c0"/>
<rect x="880" y="534" width="3" height="17" fill="#c0c0c0"/>
<rect x="884" y="534" width="3" height="16" fill="#c0c0c0"/>
<rect x="888" y="534" width="3" height="15" fill="#c0c0c0"/>
<rect x="892" y="534" width="3" height="14" fill="#c0c0c0"/>
<rect x="896" y="534" width="3" height="14" fill="#c0c0c0"/>
<rect x="900" y="534" width="3" height="12" fill="#c0c0c0"/>
<rect x="904" y="534" width="3" height="12" fill="#c0c0c0"/>
<rect x="908" y="534" width="3" height="15" fill="#c0c0c0"/>
<rect x="912" y="534" width="3" height="20" fill="#c0c0c0"/>
<rect x="916" y="534" width="3" height="25" fill="#c0c0c0"/>
<rect x="920" y="534" width="3" height="30" fill="#c0c0c0"/>
<rect x="924" y="534" width="3" height="34" fill="#c0c0c0"/>
</g>
<g shape-rendering="crispEdges" stroke="#c0c0c0" stroke-width="1" stroke-dasharray="3,3">
<line x1="5" y1="600.5" x2="1167" y2="600.5"/><line x1="5" y1="634.5" x2="1167" y2="634.5"/></g>
<polyline points="5.5,434.8 7.5,434.1 9.5,433.4 11.5,432.5 13.5,431.7 15.5,430.7 17.5,429.8 19.5,428.8 21.5,427.7 23.5,426.6 25.5,425.3 27.5,423.7 29.5,422.0 31.5,420.1 33.5,418.2 35.5,416.2 37.5,414.1 39.5,412.0 41.5,409.9 43.5,407.8 45.5,405.6 47.5,403.5 49.5,401.3 51.5,399.1 53.5,397.0 55.5,394.8 57.5,392.7 59.5,390.5 61.5,388.3 63.5,386.2 65.5,384.0 67.5,381.8 69.5,379.6 71.5,377.3 73.5,374.9 75.5,372.2 77.5,369.1 79.5,365.9 81.5,362.5 83.5,359.2 85.5,356.0 87.5,353.0 89.5,350.0 91.5,346.9 93.5,344.0 95.5,341.1 97.5,338.4 99.5,335.9 101.5,333.7 103.5,332.0 105.5,330.6 107.5,329.3 109.5,328.1 111.5,326.6 113.5,325.0 115.5,323.2 117.5,321.3 119.5,319.5 121.5,317.5 123.5,315.5 125.5,313.3 127.5,311.0 129.5,308.4 131.5,305.3 133.5,302.0 135.5,298.6 137.5,295.2 139.5,291.9 141.5,289.0 143.5,286.4 145.5,283.9 147.5,281.4 149.5,279.0 151.5,276.6 153.5,274.3 155.5,272.0 157.5,269.7 159.5,267.5 161.5,265.2 165.5,260.7 169.5,256.1 173.5,251.3 177.5,247.7 181.5,243.9 185.5,240.1 189.5,236.0 193.5,231.7 197.5,227.9 201.5,224.6 205.5,221.3 209.5,218.2 213.5,214.3 217.5,211.6 221.5,209.8 225.5,208.2 229.5,207.0 233.5,206.1 237.5,205.6 241.5,205.0 245.5,205.2 249.5,204.7 253.5,204.1 257.5,202.3 261.5,199.9 265.5,198.1 269.5,196.1 273.5,194.2 277.5,192.0 281.5,190.0 285.5,188.9 289.5,188.8 293.5,188.2 297.5,186.1 301.5,184.5 305.5,182.9 309.5,181.1 313.5,179.4 317.5,177.0 321.5,176.3 325.5,176.6 329.5,176.1 333.5,175.6 337.5,174.4 341.5,173.3 345.5,173.6 349.5,173.8 353.5,174.7 357.5,175.5 361.5,175.6 365.5,175.0 369.5,174.4 373.5,174.3 377.5,173.8 381.5,172.9 385.5,172.5 389.5,170.7 393.5,169.2 397.5,167.2 401.5,165.6 405.5,164.6 409.5,165.0 413.5,166.2 417.5,167.2 421.5,168.4 425.5,169.4 429.5,171.2 433.5,172.9 437.5,174.7 441.5,176.7 445.5,178.7 449.5,179.7 453.5,180.6 457.5,183.4 461.5,186.1 465.5,189.3 469.5,192.6 473.5,196.2 477.5,200.0 481.5,200.2 485.5,199.8 489.5,200.3 493.5,201.3 497.5,201.8 501.5,202.5 505.5,201.4 509.5,201.0 513.5,200.2 517.5,199.4 521.5,198.4 525.5,198.3 529.5,198.1 533.5,198.1 537.5,198.2 541.5,198.7 545.5,198.2 549.5,199.4 553.5,199.3 557.5,199.2 561.5,197.8 565.5,195.9 569.5,192.9 573.5,189.7 577.5,188.4 581.5,187.2 585.5,185.7 589.5,183.6 593.5,181.7 597.5,179.6 601.5,178.0 605.5,175.9 609.5,175.0 613.5,174.2 617.5,172.8 621.5,171.6 625.5,170.3 629.5,169.0 633.5,168.0 637.5,167.0 641.5,166.9 645.5,166.7 649.5,166.5 653.5,167.4 657.5,167.6 661.5,167.6 665.5,167.5 669.5,167.2 673.5,167.3 677.5,167.4 681.5,168.7 685.5,169.5 689.5,170.1 693.5,171.1 697.5,171.2 701.5,172.9 705.5,176.0 709.5,178.2 713.5,180.8 717.5,183.7 721.5,186.9 725.5,190.1 729.5,193.4 733.5,196.4 737.5,198.3 741.5,200.8 745.5,204.1 749.5,207.8 753.5,211.0 757.5,213.9 761.5,216.6 765.5,219.9 769.5,222.8 773.5,226.2 777.5,229.3 781.5,232.3 785.5,235.3 789.5,238.4 793.5,241.2 797.5,244.5 801.5,248.4 805.5,252.7 809.5,257.4 813.5,261.3 817.5,265.9 821.5,270.4 825.5,275.1 829.5,279.6 833.5,283.6 837.5,288.1 841.5,292.2 845.5,295.8 849.5,300.1 853.5,304.2 857.5,308.3 861.5,310.3 865.5,311.7 869.5,312.8 873.5,314.8 877.5,316.9 881.5,319.8 885.5,322.5 889.5,325.1 893.5,327.9 897.5,330.3 901.5,331.9 905.5,333.8 909.5,336.4 913.5,339.5 917.5,343.7 921.5,348.4 925.5,352.7" fill="none" stroke="#ffff00" stroke-width="1" stroke-linejoin="round" shape-rendering="crispEdges"/>
<polyline points="5.5,404.8 7.5,400.2 9.5,396.1 11.5,392.7 13.5,389.8 15.5,387.2 17.5,384.8 19.5,382.8 21.5,381.2 23.5,379.9 25.5,379.0 27.5,378.3 29.5,377.6 31.5,376.8 33.5,375.6 35.5,374.2 37.5,372.6 39.5,371.0 41.5,369.4 43.5,367.6 45.5,365.8 47.5,363.9 49.5,361.9 51.5,359.8 53.5,357.7 55.5,355.5 57.5,353.2 59.5,350.8 61.5,348.4 63.5,345.8 65.5,343.2 67.5,340.5 69.5,337.7 71.5,334.8 73.5,331.7 75.5,328.5 77.5,325.1 79.5,321.7 81.5,318.4 83.5,315.2 85.5,312.1 89.5,306.2 93.5,300.2 97.5,295.8 101.5,292.9 105.5,288.6 109.5,283.5 113.5,278.2 117.5,274.0 121.5,270.2 125.5,264.5 129.5,258.2 133.5,252.6 137.5,246.5 141.5,240.5 145.5,234.8 149.5,230.0 153.5,224.6 157.5,219.8 161.5,216.4 165.5,212.7 169.5,210.0 173.5,206.4 177.5,204.5 181.5,201.1 185.5,197.4 189.5,194.5 193.5,191.2 197.5,187.4 201.5,183.9 205.5,181.6 209.5,181.2 213.5,180.6 217.5,180.7 221.5,181.1 225.5,182.3 229.5,185.3 233.5,188.2 237.5,192.7 241.5,195.8 245.5,197.9 249.5,199.4 253.5,201.0 257.5,202.4 261.5,201.9 265.5,201.4 269.5,199.7 273.5,198.6 277.5,198.4 281.5,198.0 285.5,196.7 289.5,196.3 293.5,195.5 297.5,192.9 301.5,188.9 305.5,183.6 309.5,178.3 313.5,172.0 317.5,164.4 321.5,160.7 325.5,158.5 329.5,154.4 333.5,150.9 337.5,148.0 341.5,146.0 345.5,147.4 349.5,148.4 353.5,150.4 357.5,151.6 361.5,152.5 365.5,152.9 369.5,153.5 373.5,153.0 377.5,153.3 381.5,155.9 385.5,159.5 389.5,161.9 393.5,165.6 397.5,169.4 401.5,174.1 405.5,175.5 409.5,177.5 413.5,182.3 417.5,186.4 421.5,190.4 425.5,193.9 429.5,195.1 433.5,196.9 437.5,198.4 441.5,200.2 445.5,202.7 449.5,205.2 453.5,207.2 457.5,210.2 461.5,212.2 465.5,214.8 469.5,216.6 473.5,220.5 477.5,223.2 481.5,223.6 485.5,223.7 489.5,222.5 493.5,220.0 497.5,215.8 501.5,213.3 505.5,210.3 509.5,208.5 513.5,205.5 517.5,202.2 521.5,197.7 525.5,194.2 529.5,190.4 533.5,188.1 537.5,186.9 541.5,185.1 545.5,182.5 549.5,181.2 553.5,178.4 557.5,175.1 561.5,169.9 565.5,167.3 569.5,164.4 573.5,161.9 577.5,161.9 581.5,162.7 585.5,161.9 589.5,161.2 593.5,160.2 597.5,159.3 601.5,159.4 605.5,159.9 609.5,160.9 613.5,161.7 617.5,162.1 621.5,161.5 625.5,160.6 629.5,161.1 633.5,160.7 637.5,161.6 641.5,162.2 645.5,164.4 649.5,166.5 653.5,171.5 657.5,173.7 661.5,173.5 665.5,172.6 669.5,173.4 673.5,174.6 677.5,175.0 681.5,176.9 685.5,178.0 689.5,179.4 693.5,180.6 697.5,181.1 701.5,185.3 705.5,190.8 709.5,196.3 713.5,201.0 717.5,205.0 721.5,207.7 725.5,211.5 729.5,215.3 733.5,219.0 737.5,220.7 741.5,225.8 745.5,231.4 749.5,238.0 753.5,243.5 757.5,248.0 761.5,252.9 765.5,257.4 769.5,262.3 773.5,268.6 777.5,273.0 781.5,278.0 785.5,279.4 789.5,280.0 793.5,280.7 797.5,282.8 801.5,285.5 805.5,289.6 809.5,294.8 813.5,300.8 817.5,306.0 821.5,310.7 825.5,314.2 829.5,317.1 833.5,319.0 837.5,321.9 841.5,326.0 845.5,329.0 849.5,332.3 853.5,335.7 857.5,337.4 861.5,339.5 865.5,342.0 869.5,343.8 873.5,346.5 877.5,349.1 881.5,351.2 885.5,352.6 889.5,353.3 893.5,353.3 897.5,352.1 901.5,351.7 905.5,352.3 909.5,354.7 913.5,357.6 917.5,362.5 921.5,367.8 925.5,372.5" fill="none" stroke="#0000ff" stroke-width="1" stroke-linejoin="round" shape-rendering="crispEdges"/>
<polyline points="5.5,385.9 7.5,385.3 9.5,383.7 11.5,381.7 13.5,379.6 15.5,377.5 17.5,375.5 19.5,373.5 21.5,371.7 23.5,369.8 25.5,368.0 27.5,366.3 29.5,364.6 31.5,363.3 33.5,362.5 35.5,361.4 37.5,359.7 39.5,357.9 41.5,356.0 43.5,353.9 45.5,351.7 47.5,349.4 49.5,346.9 51.5,344.3 53.5,341.7 55.5,338.9 57.5,336.0 61.5,330.1 65.5,323.9 69.5,317.9 73.5,313.1 77.5,308.0 81.5,301.4 85.5,292.5 89.5,284.8 93.5,279.1 97.5,274.9 101.5,272.1 105.5,267.6 109.5,261.4 113.5,256.9 117.5,255.3 121.5,252.6 125.5,247.7 129.5,241.4 133.5,236.3 137.5,232.2 141.5,228.6 145.5,223.1 149.5,218.6 153.5,211.1 157.5,203.5 161.5,199.6 165.5,195.3 169.5,190.3 173.5,183.4 177.5,180.4 181.5,179.6 185.5,180.9 189.5,180.5 193.5,178.4 197.5,177.2 201.5,178.9 205.5,180.0 209.5,182.6 213.5,182.6 217.5,182.8 221.5,184.7 225.5,187.0 229.5,191.4 233.5,194.3 237.5,198.6 241.5,201.1 245.5,204.6 249.5,207.6 253.5,210.8 257.5,211.1 261.5,210.9 265.5,209.9 269.5,209.5 273.5,207.4 277.5,204.4 281.5,200.7 285.5,196.1 289.5,192.1 293.5,186.7 297.5,178.3 301.5,169.3 305.5,161.0 309.5,152.9 313.5,145.9 317.5,138.1 321.5,137.6 325.5,139.4 329.5,138.3 333.5,136.4 337.5,135.9 341.5,135.1 345.5,137.5 349.5,139.2 353.5,145.8 357.5,151.4 361.5,157.9 365.5,162.6 369.5,168.4 373.5,175.1 377.5,175.6 381.5,174.4 385.5,176.9 389.5,177.5 393.5,179.3 397.5,181.0 401.5,178.1 405.5,178.4 409.5,179.9 413.5,184.3 417.5,187.1 421.5,192.0 425.5,195.6 429.5,200.6 433.5,204.6 437.5,209.4 441.5,212.6 445.5,219.1 449.5,222.1 453.5,225.1 457.5,229.2 461.5,230.6 465.5,230.4 469.5,228.4 473.5,228.7 477.5,228.5 481.5,225.6 485.5,220.9 489.5,216.8 493.5,212.4 497.5,207.6 501.5,202.9 505.5,199.6 509.5,197.4 513.5,193.6 517.5,189.6 521.5,183.9 525.5,178.9 529.5,173.9 533.5,169.5 537.5,170.0 541.5,171.4 545.5,170.6 549.5,172.1 553.5,172.4 557.5,171.5 561.5,167.9 565.5,163.8 569.5,159.2 573.5,156.4 577.5,158.6 581.5,160.4 585.5,160.1 589.5,159.1 593.5,157.4 597.5,154.9 601.5,155.0 605.5,151.9 609.5,152.6 613.5,153.7 617.5,157.8 621.5,161.3 625.5,165.7 629.5,169.3 633.5,170.3 637.5,170.7 641.5,171.9 645.5,172.7 649.5,173.2 653.5,177.6 657.5,177.9 661.5,179.1 665.5,178.0 669.5,177.6 673.5,178.0 677.5,177.7 681.5,179.3 685.5,180.4 689.5,180.0 693.5,181.1 697.5,182.1 701.5,189.2 705.5,197.7 709.5,202.9 713.5,210.1 717.5,217.4 721.5,223.4 725.5,229.1 729.5,233.6 733.5,239.2 737.5,243.4 741.5,249.6 745.5,257.1 749.5,264.0 753.5,271.2 757.5,272.1 761.5,270.9 765.5,271.0 769.5,272.4 773.5,275.4 777.5,279.1 781.5,281.9 785.5,285.4 789.5,289.3 793.5,292.9 797.5,295.6 801.5,298.6 805.5,300.9 809.5,306.0 813.5,312.9 817.5,318.9 821.5,323.4 825.5,327.4 829.5,329.9 833.5,333.0 837.5,337.1 841.5,342.0 845.5,344.4 849.5,348.4 853.5,351.7 857.5,353.2 861.5,353.9 865.5,352.7 869.5,349.9 873.5,349.9 877.5,350.4 881.5,351.1 885.5,351.8 889.5,352.2 893.5,353.0 897.5,352.0 901.5,352.9 905.5,353.3 909.5,356.0 913.5,360.4 917.5,367.6 921.5,375.9 925.5,385.1" fill="none" stroke="#ff0000" stroke-width="1" stroke-linejoin="round" shape-rendering="crispEdges"/>
<polyline points="5.0,512.4 7.0,512.2 9.0,512.0 11.0,511.8 13.0,511.6 15.0,511.3 17.0,511.1 19.0,510.9 21.0,510.7 23.0,510.5 25.0,510.3 27.0,510.1 29.0,509.9 31.0,509.7 33.0,509.5 35.0,509.3 37.0,509.1 39.0,508.9 41.0,508.7 43.0,508.6 45.0,508.4 47.0,508.3 49.0,508.2 51.0,508.0 53.0,507.9 55.0,507.8 57.0,507.6 59.0,507.3 61.0,507.0 63.0,506.6 65.0,506.1 67.0,505.5 69.0,505.0 71.0,504.6 73.0,504.2 75.0,503.8 77.0,503.4 79.0,503.0 81.0,502.5 83.0,501.7 85.0,500.9 87.0,500.1 89.0,499.4 91.0,498.9 93.0,498.5 95.0,498.2 97.0,498.0 99.0,497.9 101.0,497.9 103.0,498.0 105.0,498.0 107.0,498.1 109.0,498.3 111.0,498.5 113.0,498.7 115.0,498.9 117.0,499.2 119.0,499.4 121.0,499.6 123.0,499.9 125.0,500.1 127.0,500.3 129.0,500.6 131.0,500.8 133.0,501.0 135.0,501.3 137.0,501.3 139.0,501.0 141.0,500.5 143.0,499.9 145.0,499.2 147.0,498.4 149.0,497.6 151.0,496.9 153.0,496.4 155.0,495.9 157.0,495.5 159.0,495.2 161.0,495.0 163.0,494.9 165.0,495.0 167.0,495.1 169.0,495.3 171.0,495.6 173.0,496.0 175.0,496.6 177.0,497.1 179.0,497.8 181.0,498.5 183.0,499.4 185.0,500.4 187.0,501.5 189.0,502.5 191.0,503.4 193.0,504.2 195.0,505.0 197.0,505.8 199.0,506.6 201.0,507.4 203.0,508.2 205.0,509.0 207.0,509.8 209.0,510.6 211.0,511.3 213.0,512.0 215.0,512.6 217.0,513.3 219.0,514.0 221.0,514.7 223.0,515.4 225.0,516.2 227.0,517.1 229.0,518.3 231.0,520.4 233.0,521.6 235.0,522.8 237.0,523.9 239.0,525.1 241.0,526.4 243.0,527.7 245.0,529.1 247.0,530.4 249.0,531.7 251.0,532.9 253.0,533.8 255.0,534.5 257.0,535.0 259.0,535.5 261.0,536.0 263.0,536.5 265.0,536.8 267.0,536.9 269.0,536.6 271.0,535.7 273.0,534.8 275.0,533.9 277.0,532.9 279.0,532.0 281.0,531.1 283.0,530.2 285.0,529.3 287.0,528.3 289.0,527.4 291.0,526.5 293.0,525.6 295.0,524.8 297.0,523.9 299.0,523.0 301.0,522.1 303.0,521.1 305.0,520.1 307.0,519.1 309.0,518.0 311.0,517.0 313.0,515.8 315.0,514.6 317.0,513.5 319.0,512.5 321.0,511.8 323.0,511.3 325.0,510.9 327.0,510.7 329.0,510.5 331.0,510.5 333.0,510.6 335.0,510.9 337.0,511.2 339.0,511.6 341.0,512.4 343.0,513.4 345.0,514.6 347.0,516.2 349.0,518.1 351.0,520.1 353.0,522.2 355.0,524.0 357.0,525.6 359.0,526.9 361.0,528.1 363.0,529.3 365.0,530.4 367.0,531.5 369.0,532.6 371.0,533.7 373.0,534.7 375.0,535.8 377.0,536.7 379.0,537.5 381.0,538.2 383.0,538.7 385.0,538.9 387.0,538.9 389.0,538.8 391.0,538.5 393.0,538.2 395.0,537.7 397.0,537.2 399.0,537.0 401.0,536.9 403.0,537.0 405.0,537.2 407.0,537.7 409.0,538.3 411.0,539.0 413.0,539.7 415.0,540.4 417.0,541.0 419.0,541.7 421.0,542.3 423.0,542.9 425.0,543.4 427.0,544.0 429.0,544.7 431.0,545.5 433.0,546.6 435.0,547.7 437.0,548.8 439.0,549.7 441.0,550.7 443.0,551.6 445.0,552.4 447.0,552.9 449.0,553.2 451.0,553.2 453.0,553.0 455.0,552.8 457.0,552.6 459.0,552.6 461.0,552.5 463.0,552.3 465.0,552.0 467.0,551.7 469.0,551.2 471.0,550.7 473.0,550.1 475.0,549.5 477.0,548.8 479.0,548.0 481.0,547.1 483.0,546.2 485.0,545.3 487.0,544.3 489.0,543.4 491.0,542.5 493.0,541.5 495.0,540.6 497.0,539.6 499.0,538.6 501.0,537.6 503.0,536.5 505.0,535.3 507.0,534.2 509.0,533.1 511.0,532.0 513.0,531.0 515.0,530.0 517.0,529.0 519.0,528.0 521.0,527.1 523.0,526.1 525.0,525.3 527.0,524.5 529.0,523.9 531.0,523.6 533.0,523.3 535.0,523.2 537.0,523.1 539.0,523.0 541.0,522.9 543.0,522.9 545.0,522.9 547.0,523.0 549.0,523.1 551.0,523.4 553.0,523.9 555.0,524.4 557.0,525.0 559.0,525.3 561.0,525.4 563.0,525.3 565.0,525.1 567.0,524.8 569.0,524.4 571.0,523.8 573.0,523.2 575.0,522.8 577.0,522.6 579.0,522.5 581.0,522.5 583.0,522.5 585.0,522.5 587.0,522.4 589.0,522.1 591.0,521.6 593.0,521.4 595.0,521.4 597.0,521.7 599.0,522.1 601.0,522.7 603.0,523.4 605.0,524.2 607.0,524.9 609.0,525.7 611.0,526.3 613.0,526.9 615.0,527.5 617.0,528.0 619.0,528.6 621.0,529.2 623.0,529.7 625.0,530.2 627.0,530.8 629.0,531.3 631.0,531.8 633.0,532.3 635.0,533.0 637.0,533.7 639.0,534.5 641.0,535.1 643.0,535.5 645.0,535.6 647.0,535.8 649.0,536.1 651.0,536.6 653.0,537.2 655.0,537.7 657.0,538.0 659.0,538.2 661.0,538.4 663.0,538.4 665.0,538.4 667.0,538.4 669.0,538.2 671.0,537.9 673.0,537.5 675.0,537.2 677.0,537.2 679.0,537.2 681.0,537.2 683.0,537.3 685.0,537.6 687.0,538.1 689.0,538.0 691.0,537.2 693.0,537.3 695.0,537.6 697.0,538.0 699.0,538.7 701.0,539.4 703.0,540.2 705.0,541.0 707.0,542.1 709.0,543.3 711.0,544.9 713.0,546.5 715.0,548.1 717.0,549.6 719.0,550.9 721.0,552.0 723.0,553.1 725.0,554.2 727.0,555.2 729.0,556.1 731.0,557.0 733.0,557.9 735.0,558.7 737.0,559.3 739.0,559.8 741.0,560.1 743.0,560.3 745.0,560.5 747.0,560.5 749.0,560.6 751.0,560.6 753.0,560.6 755.0,560.5 757.0,560.5 759.0,560.5 761.0,560.4 763.0,560.4 765.0,560.4 767.0,560.4 769.0,560.5 771.0,560.6 773.0,560.9 775.0,561.2 777.0,561.3 779.0,561.2 781.0,561.0 783.0,560.8 785.0,560.5 787.0,560.3 789.0,560.0 791.0,559.8 793.0,559.5 795.0,559.3 797.0,559.1 799.0,558.9 801.0,558.8 803.0,558.8 805.0,558.8 807.0,559.1 809.0,559.4 811.0,559.9 813.0,560.4 815.0,560.9 817.0,561.4 819.0,561.9 821.0,562.4 823.0,562.9 825.0,563.4 827.0,563.9 829.0,564.1 831.0,564.3 833.0,564.5 835.0,564.6 837.0,564.8 839.0,564.9 841.0,565.0 843.0,564.8 845.0,564.5 847.0,564.0 849.0,563.5 851.0,563.0 853.0,562.5 855.0,562.0 857.0,561.5 859.0,561.0 861.0,560.6 863.0,560.1 865.0,559.4 867.0,558.5 869.0,557.6 871.0,556.7 873.0,556.1 875.0,555.5 877.0,555.0 879.0,554.5 881.0,554.0 883.0,553.5 885.0,553.1 887.0,552.6 889.0,552.2 891.0,551.8 893.0,551.3 895.0,550.9 897.0,550.5 899.0,550.1 901.0,549.7 903.0,549.3 905.0,548.9 907.0,548.6 909.0,548.5 911.0,548.5 913.0,548.7 915.0,549.1 917.0,549.6 919.0,550.4 921.0,551.2 923.0,552.0 924.8,552.9" fill="none" stroke="#ff0000" stroke-width="1" stroke-linejoin="round" shape-rendering="crispEdges"/>
<polyline points="5.6,606.4 10.9,606.2 17.9,603.2 21.9,604.8 29.4,609.4 33.8,606.2 37.7,601.2 41.7,603.4 45.7,602.4 49.7,602.4 53.2,607.8 57.6,603.4 63.2,598.4 73.5,598.2 77.5,597.2 81.5,596.2 85.8,592.3 89.8,594.3 93.4,594.5 97.4,603.8 101.3,610.3 105.3,605.4 109.3,604.2 113.2,604.2 117.2,608.8 121.2,604.8 125.2,599.8 129.1,597.2 133.1,600.8 137.1,602.4 141.1,599.4 145.0,597.2 149.0,599.8 153.0,598.2 157.0,602.8 161.3,610.1 164.9,607.8 168.9,606.2 172.8,604.4 177.2,612.1 180.8,611.1 185.8,614.3 189.7,611.7 193.7,609.2 197.3,607.4 201.1,612.3 205.0,613.3 209.0,614.3 213.6,610.3 217.2,617.1 221.1,619.1 225.1,618.1 229.1,621.7 233.6,624.6 237.5,627.6 241.5,623.3 245.5,624.3 249.5,617.7 253.4,616.1 257.8,612.1 261.4,611.1 265.4,610.1 269.7,607.4 273.7,609.2 277.7,608.2 281.7,606.4 285.2,607.4 289.6,613.3 293.6,612.3 297.5,602.8 301.5,601.2 305.1,599.2 309.5,599.2 313.4,597.8 317.4,595.4 319.4,607.8 321.4,619.7 325.4,622.3 329.3,616.7 333.3,614.3 337.3,615.1 341.3,615.3 345.6,625.2 349.2,623.7 353.2,624.6 357.2,621.7 361.5,620.3 365.5,616.3 369.1,617.3 373.0,616.3 377.4,619.3 381.4,617.3 385.4,621.1 389.3,613.3 393.3,617.3 400.9,617.7 405.2,623.3 409.2,627.0 413.2,630.2 417.4,624.3 421.3,625.2 425.3,623.3 429.3,625.2 437.2,625.2 441.2,624.3 445.2,625.2 449.1,619.3 453.1,618.3 457.5,622.3 460.0,620.3 464.0,620.7 468.9,622.3 473.9,622.3 477.9,621.1 481.5,609.2 485.4,608.4 489.8,610.1 493.8,610.1 497.7,607.4 501.7,610.1 505.3,608.4 509.7,613.3 513.6,611.1 517.6,609.4 521.6,605.4 525.6,609.2 529.5,610.1 533.5,611.1 537.5,618.3 541.5,619.3 545.4,612.3 549.4,621.3 553.4,614.3 557.4,612.3 561.3,605.4 565.3,607.2 569.3,605.4 573.2,608.2 577.2,619.1 581.2,620.3 585.2,615.3 589.1,614.3 593.5,616.3 597.1,615.3 601.5,618.3 605.4,615.3 609.4,620.3 613.4,620.3 617.4,619.3 621.3,619.3 625.3,618.3 629.3,619.7 633.8,623.7 637.8,622.3 641.8,618.7 645.8,615.3 649.1,616.3 653.1,627.2 657.1,618.1 661.1,617.3 665.0,615.1 669.0,616.7 673.0,618.3 677.0,616.3 681.5,622.3 685.5,621.1 689.5,619.3 693.6,623.3 697.5,619.3 701.5,631.2 705.5,634.2 709.5,634.2 713.4,631.2 717.4,631.2 721.4,624.3 725.4,625.2 729.7,622.3 733.7,623.3 737.3,624.3 741.3,629.2 745.2,630.2 749.6,632.2 753.6,628.2 757.5,624.3 761.5,624.3 765.5,627.2 769.5,628.2 773.4,632.2 777.4,626.2 781.4,625.2 787.4,625.2 793.3,627.2 797.3,629.6 801.3,631.6 805.2,633.0 809.2,636.6 813.2,638.6 817.2,632.6 821.1,631.2 829.1,631.2 833.4,627.2 837.4,629.2 841.4,631.2 845.4,622.7 849.3,626.6 853.3,629.2 857.3,624.3 861.3,621.3 865.2,622.3 869.2,618.3 873.2,624.3 877.2,624.3 881.3,626.2 885.3,625.2 889.3,620.3 893.2,624.3 897.2,619.3 901.2,619.3 905.2,624.3 909.1,632.0 913.1,633.0 917.1,636.6 921.5,639.2 924.8,638.2" fill="none" stroke="#1e90ff" stroke-width="1" stroke-linejoin="round" shape-rendering="crispEdges"/>
<g shape-rendering="crispEdges">
<rect x="4" y="25" width="1164" height="1" fill="#000"/>
<rect x="4" y="25" width="1" height="636" fill="#000"/>
<rect x="1167" y="25" width="1" height="636" fill="#000"/>
<rect x="4" y="485" width="1164" height="1" fill="#000"/>
<rect x="2" y="486" width="1166" height="1" fill="#fff"/>
<rect x="4" y="487" width="1164" height="1" fill="#000"/>
<rect x="4" y="571" width="1164" height="1" fill="#000"/>
<rect x="2" y="572" width="1166" height="1" fill="#fff"/>
<rect x="4" y="573" width="1164" height="1" fill="#000"/>
<rect x="4" y="660" width="1164" height="1" fill="#000"/>
<rect x="4" y="331" width="6" height="6" fill="#00ff00"/>
<rect x="6" y="333" width="2" height="2" fill="#fff"/>
<rect x="1161" y="331" width="6" height="6" fill="#00ff00"/>
<rect x="1163" y="333" width="2" height="2" fill="#fff"/>
<rect x="4" y="406" width="6" height="6" fill="#0000ff"/>
<rect x="6" y="408" width="2" height="2" fill="#fff"/>
<rect x="1161" y="406" width="6" height="6" fill="#0000ff"/>
<rect x="1163" y="408" width="2" height="2" fill="#fff"/>
<rect x="4" y="477" width="6" height="6" fill="#0000ff"/>
<rect x="6" y="479" width="2" height="2" fill="#fff"/>
<rect x="1161" y="477" width="6" height="6" fill="#0000ff"/>
<rect x="1163" y="479" width="2" height="2" fill="#fff"/>
<rect x="1168" y="53" width="2" height="1" fill="#000"/>
<rect x="1168" y="86" width="2" height="1" fill="#000"/>
<rect x="1168" y="119" width="2" height="1" fill="#000"/>
<rect x="1168" y="152" width="2" height="1" fill="#000"/>
<rect x="1168" y="185" width="2" height="1" fill="#000"/>
<rect x="1168" y="218" width="2" height="1" fill="#000"/>
<rect x="1168" y="251" width="2" height="1" fill="#000"/>
<rect x="1168" y="284" width="2" height="1" fill="#000"/>
<rect x="1168" y="317" width="2" height="1" fill="#000"/>
<rect x="1168" y="350" width="2" height="1" fill="#000"/>
<rect x="1168" y="383" width="2" height="1" fill="#000"/>
<rect x="1168" y="416" width="2" height="1" fill="#000"/>
<rect x="1168" y="449" width="2" height="1" fill="#000"/>
<rect x="1168" y="482" width="2" height="1" fill="#000"/>
<rect x="1168" y="489" width="2" height="1" fill="#000"/>
<rect x="1168" y="533" width="2" height="1" fill="#000"/>
<rect x="1168" y="570" width="2" height="1" fill="#000"/>
<rect x="1168" y="575" width="2" height="1" fill="#000"/>
<rect x="1168" y="600" width="2" height="1" fill="#000"/>
<rect x="1168" y="634" width="2" height="1" fill="#000"/>
<rect x="1168" y="655" width="2" height="1" fill="#000"/>
<rect x="5" y="661" width="1" height="3" fill="#000"/>
<rect x="69" y="661" width="1" height="3" fill="#000"/>
<rect x="133" y="661" width="1" height="3" fill="#000"/>
<rect x="197" y="661" width="1" height="3" fill="#000"/>
<rect x="261" y="661" width="1" height="3" fill="#000"/>
<rect x="325" y="661" width="1" height="3" fill="#000"/>
<rect x="389" y="661" width="1" height="3" fill="#000"/>
<rect x="453" y="661" width="1" height="3" fill="#000"/>
<rect x="517" y="661" width="1" height="3" fill="#000"/>
<rect x="581" y="661" width="1" height="3" fill="#000"/>
<rect x="645" y="661" width="1" height="3" fill="#000"/>
<rect x="709" y="661" width="1" height="3" fill="#000"/>
<rect x="773" y="661" width="1" height="3" fill="#000"/>
<rect x="837" y="661" width="1" height="3" fill="#000"/>
<rect x="901" y="661" width="1" height="3" fill="#000"/>
</g>
<text x="1173.1" y="57.0" font-size="10.2" fill="#000" textLength="32.8" lengthAdjust="spacingAndGlyphs" text-anchor="start">0.79960</text>
<text x="1173.1" y="90.0" font-size="10.2" fill="#000" textLength="32.8" lengthAdjust="spacingAndGlyphs" text-anchor="start">0.79260</text>
<text x="1173.1" y="123.0" font-size="10.2" fill="#000" textLength="32.8" lengthAdjust="spacingAndGlyphs" text-anchor="start">0.78560</text>
<text x="1173.1" y="156.0" font-size="10.2" fill="#000" textLength="32.8" lengthAdjust="spacingAndGlyphs" text-anchor="start">0.77860</text>
<text x="1173.1" y="189.0" font-size="10.2" fill="#000" textLength="32.8" lengthAdjust="spacingAndGlyphs" text-anchor="start">0.77160</text>
<text x="1173.1" y="222.0" font-size="10.2" fill="#000" textLength="32.8" lengthAdjust="spacingAndGlyphs" text-anchor="start">0.76460</text>
<text x="1173.1" y="255.0" font-size="10.2" fill="#000" textLength="32.8" lengthAdjust="spacingAndGlyphs" text-anchor="start">0.75760</text>
<text x="1173.1" y="288.0" font-size="10.2" fill="#000" textLength="32.8" lengthAdjust="spacingAndGlyphs" text-anchor="start">0.75060</text>
<text x="1173.1" y="321.0" font-size="10.2" fill="#000" textLength="32.8" lengthAdjust="spacingAndGlyphs" text-anchor="start">0.74360</text>
<text x="1173.1" y="354.0" font-size="10.2" fill="#000" textLength="32.8" lengthAdjust="spacingAndGlyphs" text-anchor="start">0.73660</text>
<text x="1173.1" y="387.0" font-size="10.2" fill="#000" textLength="32.8" lengthAdjust="spacingAndGlyphs" text-anchor="start">0.72960</text>
<text x="1173.1" y="420.0" font-size="10.2" fill="#000" textLength="32.8" lengthAdjust="spacingAndGlyphs" text-anchor="start">0.72280</text>
<text x="1173.1" y="453.0" font-size="10.2" fill="#000" textLength="32.8" lengthAdjust="spacingAndGlyphs" text-anchor="start">0.71580</text>
<text x="1173.1" y="486.0" font-size="10.2" fill="#000" textLength="32.8" lengthAdjust="spacingAndGlyphs" text-anchor="start">0.70880</text>
<text x="1171.2" y="498.0" font-size="10.2" fill="#000" textLength="37.9" lengthAdjust="spacingAndGlyphs" text-anchor="start">0.008904</text>
<text x="1171.4" y="538.0" font-size="10.2" fill="#000" textLength="17.3" lengthAdjust="spacingAndGlyphs" text-anchor="start">0.00</text>
<text x="1170.8" y="568.0" font-size="10.2" fill="#000" textLength="40.9" lengthAdjust="spacingAndGlyphs" text-anchor="start">-0.007011</text>
<text x="1171.4" y="584.0" font-size="10.2" fill="#000" textLength="14.6" lengthAdjust="spacingAndGlyphs" text-anchor="start">100</text>
<text x="1171.4" y="604.0" font-size="10.2" fill="#000" textLength="9.2" lengthAdjust="spacingAndGlyphs" text-anchor="start">70</text>
<text x="1171.4" y="638.0" font-size="10.2" fill="#000" textLength="9.2" lengthAdjust="spacingAndGlyphs" text-anchor="start">30</text>
<text x="1171.4" y="657.0" font-size="10.2" fill="#000" textLength="4.6" lengthAdjust="spacingAndGlyphs" text-anchor="start">0</text>
<rect x="1169" y="177" width="39" height="11" fill="#ff0000" shape-rendering="crispEdges"/>
<text x="1173.2" y="186.0" font-size="10.2" fill="#fff" textLength="32.7" lengthAdjust="spacingAndGlyphs" text-anchor="start">0.77200</text>
<rect x="1169" y="247" width="39" height="11" fill="#ff0000" shape-rendering="crispEdges"/>
<text x="1173.2" y="256.0" font-size="10.2" fill="#fff" textLength="32.7" lengthAdjust="spacingAndGlyphs" text-anchor="start">0.75716</text>
<rect x="1169" y="328" width="39" height="11" fill="#00ff00" shape-rendering="crispEdges"/>
<text x="1173.2" y="337.0" font-size="10.2" fill="#fff" textLength="32.7" lengthAdjust="spacingAndGlyphs" text-anchor="start">0.74007</text>
<rect x="1169" y="403" width="39" height="11" fill="#0000ff" shape-rendering="crispEdges"/>
<text x="1173.2" y="412.0" font-size="10.2" fill="#fff" textLength="32.7" lengthAdjust="spacingAndGlyphs" text-anchor="start">0.72411</text>
<rect x="1169" y="454" width="39" height="11" fill="#000000" shape-rendering="crispEdges"/>
<text x="1173.2" y="463.0" font-size="10.2" fill="#fff" textLength="32.7" lengthAdjust="spacingAndGlyphs" text-anchor="start">0.71354</text>
<rect x="1169" y="474" width="39" height="11" fill="#0000ff" shape-rendering="crispEdges"/>
<text x="1173.2" y="483.0" font-size="10.2" fill="#fff" textLength="32.7" lengthAdjust="spacingAndGlyphs" text-anchor="start">0.70836</text>
<rect x="1169" y="478" width="39" height="11" fill="#ff0000" shape-rendering="crispEdges"/>
<text x="1173.2" y="487.0" font-size="10.2" fill="#fff" textLength="32.7" lengthAdjust="spacingAndGlyphs" text-anchor="start">0.70820</text>
<g transform="translate(4.2,673) scale(0.915,1)"><text x="0" y="0" font-size="10.2">24 Nov 2020</text></g>
<g transform="translate(68.2,673) scale(0.915,1)"><text x="0" y="0" font-size="10.2">12 Dec 2020</text></g>
<g transform="translate(132.2,673) scale(0.915,1)"><text x="0" y="0" font-size="10.2">1 Jan 2021</text></g>
<g transform="translate(196.2,673) scale(0.915,1)"><text x="0" y="0" font-size="10.2">21 Jan 2021</text></g>
<g transform="translate(260.2,673) scale(0.915,1)"><text x="0" y="0" font-size="10.2">9 Feb 2021</text></g>
<g transform="translate(324.2,673) scale(0.915,1)"><text x="0" y="0" font-size="10.2">27 Feb 2021</text></g>
<g transform="translate(388.2,673) scale(0.915,1)"><text x="0" y="0" font-size="10.2">18 Mar 2021</text></g>
<g transform="translate(452.2,673) scale(0.915,1)"><text x="0" y="0" font-size="10.2">6 Apr 2021</text></g>
<g transform="translate(516.2,673) scale(0.915,1)"><text x="0" y="0" font-size="10.2">24 Apr 2021</text></g>
<g transform="translate(580.2,673) scale(0.915,1)"><text x="0" y="0" font-size="10.2">13 May 2021</text></g>
<g transform="translate(644.2,673) scale(0.915,1)"><text x="0" y="0" font-size="10.2">1 Jun 2021</text></g>
<g transform="translate(708.2,673) scale(0.915,1)"><text x="0" y="0" font-size="10.2">19 Jun 2021</text></g>
<g transform="translate(772.2,673) scale(0.915,1)"><text x="0" y="0" font-size="10.2">8 Jul 2021</text></g>
<g transform="translate(836.2,673) scale(0.915,1)"><text x="0" y="0" font-size="10.2">27 Jul 2021</text></g>
<g transform="translate(900.2,673) scale(0.915,1)"><text x="0" y="0" font-size="10.2">14 Aug 2021</text></g>
<polygon points="8,36 15.5,36 11.75,31.6" fill="#000"/>
<text x="20.9" y="37.0" font-size="10.2" fill="#000" textLength="64.5" lengthAdjust="spacingAndGlyphs" text-anchor="start">AUDUSD,Daily</text>
<text x="92.4" y="37.0" font-size="10.2" fill="#000" textLength="140.1" lengthAdjust="spacingAndGlyphs" text-anchor="start">0.71322 0.71423 0.71304 0.71354</text>
<text x="9.2" y="500.0" font-size="10.2" fill="#000" textLength="153.2" lengthAdjust="spacingAndGlyphs" text-anchor="start">MACD(12,26,9) -0.006289 -0.003580</text>
<text x="9.5" y="586.0" font-size="10.2" fill="#000" textLength="67.0" lengthAdjust="spacingAndGlyphs" text-anchor="start">RSI(14) 24.7270</text>
<defs>
<linearGradient id="gTop" x1="0" y1="0" x2="0" y2="1"><stop offset="0" stop-color="#5a55ff"/><stop offset="1" stop-color="#3a3af0"/></linearGradient>
<linearGradient id="gBot" x1="0" y1="0" x2="0" y2="1"><stop offset="0" stop-color="#3030e8"/><stop offset="0.5" stop-color="#1414cc"/><stop offset="1" stop-color="#0000a8"/></linearGradient>
<linearGradient id="gBtn" x1="0" y1="0" x2="0" y2="1"><stop offset="0" stop-color="#f4f4f4"/><stop offset="0.5" stop-color="#e4e4e4"/><stop offset="0.5" stop-color="#d4d4d4"/><stop offset="1" stop-color="#cccccc"/></linearGradient>
<linearGradient id="gBotU" gradientUnits="userSpaceOnUse" x1="0" y1="69" x2="0" y2="102"><stop offset="0" stop-color="#3030e8"/><stop offset="0.5" stop-color="#1414cc"/><stop offset="1" stop-color="#0000a8"/></linearGradient>
</defs>
<g shape-rendering="crispEdges">
<rect x="59" y="44" width="117" height="26" fill="#ffffff"/>
<rect x="8" y="45" width="52" height="25" fill="url(#gTop)"/>
<rect x="175" y="45" width="52" height="25" fill="url(#gTop)"/>
<rect x="8" y="69" width="109" height="33" fill="url(#gBot)"/>
<rect x="119" y="69" width="108" height="33" fill="url(#gBot)"/>
<rect x="12" y="69" width="44" height="1" fill="#8a8aff"/>
<rect x="179" y="69" width="44" height="1" fill="#8a8aff"/>
<rect x="62" y="45" width="111" height="22" fill="#b8b8b8"/>
<rect x="63" y="46" width="109" height="20" fill="#ffffff"/>
<rect x="64" y="47" width="19" height="18" fill="url(#gBtn)"/>
<rect x="83" y="46" width="1" height="20" fill="#b8b8b8"/>
<rect x="152" y="47" width="19" height="18" fill="url(#gBtn)"/>
<rect x="151" y="46" width="1" height="20" fill="#b8b8b8"/>
</g>
<polygon points="70.5,54.5 76.5,54.5 73.5,58" fill="#5560b0"/>
<polygon points="158.5,57.5 164.5,57.5 161.5,54" fill="#5560b0"/>
<text x="124.4" y="60.0" font-size="11.6" fill="#000" textLength="23.3" lengthAdjust="spacingAndGlyphs" text-anchor="start">3.00</text>
<text x="20.9" y="61.0" font-size="12.3" fill="#fff" textLength="25.3" lengthAdjust="spacingAndGlyphs" text-anchor="start">SELL</text>
<text x="189.0" y="61.0" font-size="12.3" fill="#fff" textLength="22.8" lengthAdjust="spacingAndGlyphs" text-anchor="start">BUY</text>
<text x="28.3" y="96.6" font-size="11.4" fill="#fff" font-weight="bold" textLength="23.3" lengthAdjust="spacingAndGlyphs" text-anchor="start">0.71</text>
<text x="138.3" y="96.6" font-size="11.4" fill="#fff" font-weight="bold" textLength="23.3" lengthAdjust="spacingAndGlyphs" text-anchor="start">0.71</text>
<text x="56.6" y="97.5" font-size="35.4" fill="#fff" stroke="url(#gBotU)" stroke-width="0.7" textLength="32.2" lengthAdjust="spacingAndGlyphs">35</text>
<text x="167.6" y="97.5" font-size="35.4" fill="#fff" stroke="url(#gBotU)" stroke-width="0.7" textLength="33.7" lengthAdjust="spacingAndGlyphs">37</text>
<text x="94.8" y="80.7" font-size="12.2" fill="#fff" font-weight="bold" textLength="6.5" lengthAdjust="spacingAndGlyphs" text-anchor="start">7</text>
<text x="205.3" y="80.7" font-size="12.2" fill="#fff" font-weight="bold" textLength="7.5" lengthAdjust="spacingAndGlyphs" text-anchor="start">0</text>
<g shape-rendering="crispEdges">
<rect x="0" y="681" width="2" height="1" fill="#f4f4f4"/>
<rect x="0" y="682" width="1208" height="1" fill="#e6e6e6"/>
<rect x="0" y="683" width="1208" height="1" fill="#000"/>
<rect x="2" y="684" width="1206" height="19" fill="#f0f0f0"/>
<rect x="0" y="703" width="1208" height="1" fill="#fafafa"/>
<rect x="98" y="682" width="105" height="20" fill="#ffffff"/>
<rect x="98" y="683" width="1" height="19" fill="#000"/>
<rect x="202" y="683" width="1" height="19" fill="#000"/>
<rect x="98" y="701" width="105" height="1" fill="#000"/>
<rect x="290" y="687" width="1" height="12" fill="#808080"/>
<rect x="394" y="687" width="1" height="12" fill="#808080"/>
<rect x="498" y="687" width="1" height="12" fill="#808080"/>
<rect x="575" y="687" width="1" height="12" fill="#808080"/>
<rect x="642" y="687" width="1" height="12" fill="#808080"/>
<rect x="718" y="687" width="1" height="12" fill="#808080"/>
<rect x="810" y="687" width="1" height="12" fill="#808080"/>
<rect x="902" y="687" width="1" height="12" fill="#808080"/>
</g>
<text x="18.3" y="698.0" font-size="12.3" fill="#6e6e6e" textLength="67.5" lengthAdjust="spacingAndGlyphs" text-anchor="start">EURUSD,H4</text>
<text x="109.3" y="698.0" font-size="12.3" fill="#000" textLength="81.4" lengthAdjust="spacingAndGlyphs" text-anchor="start">AUDUSD,Daily</text>
<text x="212.3" y="698.0" font-size="12.3" fill="#6e6e6e" textLength="66.5" lengthAdjust="spacingAndGlyphs" text-anchor="start">USDCHF,H4</text>
<text x="301.0" y="698.0" font-size="12.3" fill="#6e6e6e" textLength="80.6" lengthAdjust="spacingAndGlyphs" text-anchor="start">USDCAD,Daily</text>
<text x="404.5" y="698.0" font-size="12.3" fill="#6e6e6e" textLength="82.0" lengthAdjust="spacingAndGlyphs" text-anchor="start">USDCNH,Daily</text>
<text x="510.3" y="698.0" font-size="12.3" fill="#6e6e6e" textLength="51.2" lengthAdjust="spacingAndGlyphs" text-anchor="start">UKOil,H1</text>
<text x="584.7" y="698.0" font-size="12.3" fill="#6e6e6e" textLength="45.6" lengthAdjust="spacingAndGlyphs" text-anchor="start">DJ30,H1</text>
<text x="654.7" y="698.0" font-size="12.3" fill="#6e6e6e" textLength="50.7" lengthAdjust="spacingAndGlyphs" text-anchor="start">USDX,H1</text>
<text x="729.2" y="698.0" font-size="12.3" fill="#6e6e6e" textLength="67.7" lengthAdjust="spacingAndGlyphs" text-anchor="start">XAUUSD,H1</text>
<text x="822.2" y="698.0" font-size="12.3" fill="#6e6e6e" textLength="66.4" lengthAdjust="spacingAndGlyphs" text-anchor="start">GBPUSD,H1</text>
<polygon points="1182.3,691.8 1186.3,688.8 1186.3,694.8" fill="#8c8c8c"/>
<polygon points="1205.3,691.8 1201.7,688.8 1201.7,694.8" fill="#8c8c8c"/>
</svg></body></html>
